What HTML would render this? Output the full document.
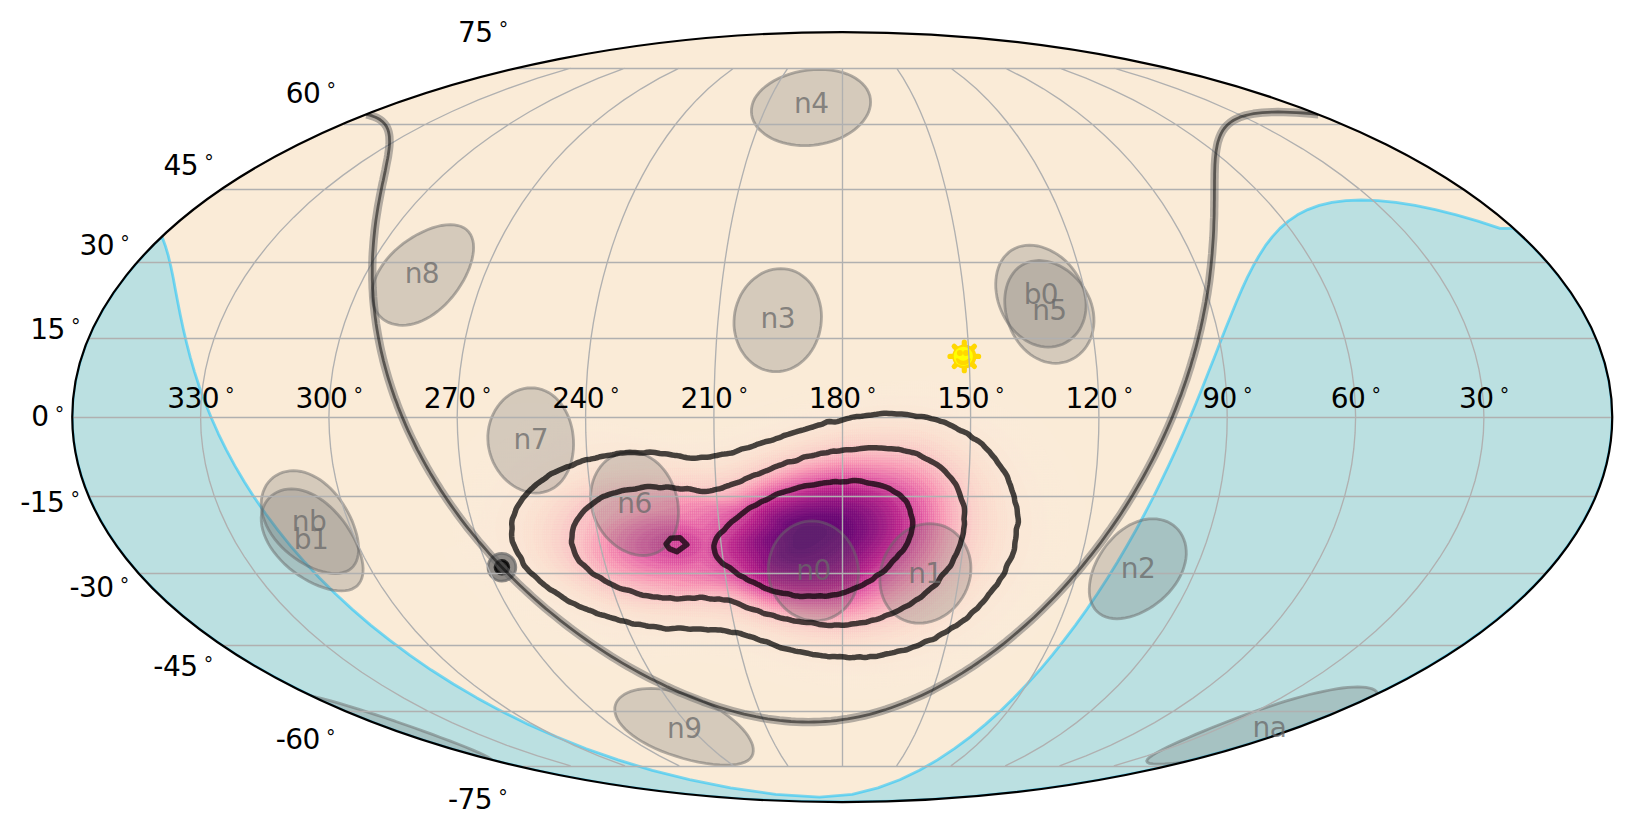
<!DOCTYPE html>
<html lang="en"><head><meta charset="utf-8"><title>Sky map</title>
<style>html,body{margin:0;padding:0;background:#fff}svg{display:block}text{font-family:"DejaVu Sans","Liberation Sans",sans-serif;font-size:28.0px;fill:#000;letter-spacing:-0.55px}.dg{font-size:19px}.det{fill:#696969;fill-opacity:.25;stroke:#696969;stroke-opacity:.5;stroke-width:2.8}.dl text{fill:#696969;fill-opacity:.75;text-anchor:middle}</style></head><body>
<svg width="1632" height="835" viewBox="0 0 1632 835">
<defs><pattern id="hp" x="441.2" y="371" width="2.025" height="2.55" patternUnits="userSpaceOnUse"><rect width="0.45" height="2.55" fill="#fff"/><rect width="2.025" height="0.45" fill="#fff"/></pattern><mask id="hm" maskUnits="userSpaceOnUse" x="440" y="370" width="650" height="340"><rect x="440" y="370" width="650" height="340" fill="url(#hp)"/></mask><clipPath id="sky"><ellipse cx="842.25" cy="417.05" rx="770.0" ry="385.0"/></clipPath></defs>
<rect width="1632" height="835" fill="#fff"/>
<ellipse cx="842.25" cy="417.05" rx="770.0" ry="385.0" fill="#faebd7"/>
<g clip-path="url(#sky)">
<g id="heat">
<path d="M944.5,370.0L963.0,374.6L973.0,377.6L986.0,382.7L998.0,388.4L1010.0,395.2L1021.0,402.6L1031.4,411.0L1040.8,420.0L1050.0,430.7L1058.1,442.0L1066.7,456.0L1074.4,471.0L1079.4,483.0L1083.6,496.0L1086.4,509.0L1087.6,521.0L1087.4,533.0L1086.0,545.0L1083.3,557.0L1079.4,569.0L1074.3,581.0L1068.0,593.0L1060.4,605.0L1052.3,616.0L1042.9,627.0L1032.1,638.0L1020.8,648.0L1009.0,657.1L997.0,665.2L984.0,672.7L970.0,679.4L957.0,684.6L945.0,688.6L933.0,691.9L920.0,694.7L907.0,696.8L894.0,698.3L881.0,699.1L867.0,699.3L854.0,698.9L840.0,697.8L827.0,696.1L813.0,693.7L799.0,690.6L788.0,687.6L775.0,683.5L744.1,672.0L734.0,668.6L723.0,665.6L711.0,663.5L700.0,662.6L687.0,662.7L675.0,663.6L638.0,667.1L622.0,667.9L613.0,667.7L604.0,667.1L596.0,666.0L588.0,664.3L577.0,660.7L566.0,655.3L510.0,622.2L500.3,616.0L492.0,610.0L479.1,599.0L467.6,587.0L457.8,575.0L450.4,565.0L442.0,552.8L440.0,550.8ZM440.0,483.0L441.0,482.0L447.3,471.0L454.7,460.0L465.0,447.0L483.7,426.0L487.0,421.0L490.0,414.7L492.0,411.7L493.6,410.0L496.0,408.4L503.0,405.7L512.0,404.1L524.0,403.1L536.0,403.0L550.0,403.8L563.0,405.4L577.0,407.9L626.8,420.0L643.0,423.1L653.0,424.4L662.0,424.9L674.0,424.8L685.6,424.0L708.0,420.9L730.5,416.0L751.2,410.0L810.0,390.4L836.0,382.5L860.0,376.3L887.7,371.0L891.3,370.0Z" fill="#faebd8"/>
<path d="M903.2,385.0L918.0,385.1L932.0,386.4L945.0,388.7L959.0,392.5L972.0,397.3L985.0,403.4L997.9,411.0L1009.0,419.0L1019.0,427.9L1027.5,437.0L1035.8,448.0L1043.4,460.0L1050.2,473.0L1055.6,486.0L1059.5,499.0L1061.8,511.0L1062.7,522.0L1062.3,534.0L1060.5,546.0L1057.5,558.0L1053.5,569.0L1047.9,581.0L1041.0,593.0L1033.3,604.0L1024.3,615.0L1014.0,625.9L1003.0,635.9L992.0,644.5L980.0,652.6L968.0,659.6L955.0,665.9L941.0,671.5L929.0,675.3L918.0,678.2L906.0,680.6L895.0,682.3L883.0,683.6L870.0,684.3L858.0,684.3L846.0,683.8L834.0,682.8L822.0,681.2L810.0,679.1L798.0,676.4L777.0,670.4L738.8,657.0L727.6,654.0L718.0,652.2L707.0,651.2L695.0,651.1L653.0,653.7L637.0,653.9L620.0,652.6L605.0,649.6L597.0,647.1L588.0,643.5L551.0,625.4L528.0,612.8L518.9,607.0L511.0,601.3L504.0,595.5L496.9,589.0L489.4,581.0L483.6,574.0L476.2,564.0L470.3,555.0L465.8,547.0L462.7,540.0L460.9,534.0L459.8,528.0L459.7,522.0L460.6,514.0L462.6,506.0L465.2,499.0L469.5,490.0L473.6,483.0L477.8,477.0L483.0,470.5L488.0,465.0L495.0,458.3L504.0,450.6L521.5,437.0L531.0,428.2L534.2,426.0L538.0,424.4L546.0,422.3L557.0,421.0L569.0,420.5L582.0,421.0L593.0,422.1L605.0,423.9L646.2,433.0L660.0,435.4L668.0,436.2L676.0,436.5L694.0,435.5L715.0,432.3L737.6,427.0L757.5,421.0L814.0,402.4L830.0,397.6L846.0,393.4L863.0,389.7L876.0,387.5L890.0,385.8L903.2,385.0Z" fill="#faebd8"/>
<path d="M898.7,396.0L913.0,396.3L926.0,397.6L938.0,399.8L951.0,403.3L963.0,407.7L975.0,413.3L986.5,420.0L997.0,427.6L1006.0,435.5L1014.0,444.0L1021.6,454.0L1028.5,465.0L1034.6,477.0L1039.3,489.0L1042.8,501.0L1044.7,512.0L1045.4,523.0L1044.9,534.0L1043.2,545.0L1040.3,556.0L1036.3,567.0L1031.0,578.0L1024.6,589.0L1017.6,599.0L1009.4,609.0L999.8,619.0L989.0,628.8L978.0,637.3L967.0,644.7L955.0,651.5L943.0,657.2L930.0,662.3L920.0,665.4L909.0,668.3L898.0,670.6L887.0,672.2L876.0,673.3L864.0,673.9L852.0,673.9L840.0,673.4L818.0,670.8L796.0,666.3L778.0,661.2L742.0,648.9L731.1,646.0L722.0,644.3L712.0,643.2L701.0,642.9L663.0,644.3L648.0,644.1L631.0,642.5L615.0,639.1L605.0,636.0L593.0,631.4L565.0,619.2L544.0,608.4L535.0,603.0L527.0,597.4L520.1,592.0L513.3,586.0L506.5,579.0L500.5,572.0L494.6,564.0L489.4,556.0L485.1,548.0L482.2,541.0L480.5,535.0L479.6,528.0L479.8,522.0L481.2,514.0L483.3,507.0L486.4,500.0L490.8,492.0L495.7,485.0L500.7,479.0L506.7,473.0L513.0,467.5L520.0,462.2L534.0,453.2L557.0,439.7L563.0,436.9L571.0,434.8L581.0,433.4L592.0,432.7L604.0,432.9L614.0,433.7L625.0,435.2L659.3,442.0L672.0,443.9L685.0,444.6L700.0,443.6L720.0,440.3L741.0,435.1L757.7,430.0L810.0,412.8L841.0,404.2L857.0,400.7L871.0,398.3L885.0,396.7L898.7,396.0Z" fill="#faead8"/>
<path d="M885.5,405.0L899.0,404.7L912.0,405.3L924.0,406.8L937.0,409.5L949.0,413.2L961.0,418.1L972.0,423.7L982.0,430.1L991.0,437.1L999.3,445.0L1007.0,454.0L1013.8,464.0L1019.9,475.0L1024.7,486.0L1028.3,497.0L1030.6,508.0L1031.7,519.0L1031.7,529.0L1030.5,539.0L1028.1,550.0L1024.5,561.0L1020.1,571.0L1014.1,582.0L1007.5,592.0L999.6,602.0L990.3,612.0L980.6,621.0L970.6,629.0L960.0,636.4L948.0,643.4L936.0,649.3L924.0,654.1L914.0,657.4L903.0,660.3L893.0,662.4L882.0,664.1L870.0,665.3L859.0,665.8L848.0,665.8L836.0,665.1L815.0,662.6L795.0,658.5L778.0,653.8L743.0,642.1L734.0,639.7L725.0,637.9L716.0,636.9L706.0,636.4L671.0,636.8L656.0,636.3L639.0,634.4L622.0,630.9L611.0,627.7L599.0,623.7L576.0,614.5L556.0,604.6L547.0,599.4L540.0,594.7L533.0,589.5L526.6,584.0L520.0,577.5L514.3,571.0L509.0,564.0L504.5,557.0L500.8,550.0L498.2,544.0L496.2,537.0L495.3,530.0L495.4,524.0L496.6,517.0L499.2,509.0L502.5,502.0L507.0,494.6L512.0,488.1L517.8,482.0L524.0,476.5L531.0,471.3L538.0,466.8L546.0,462.3L555.0,457.9L580.0,447.5L588.0,445.1L598.0,443.4L609.0,442.5L620.0,442.3L630.0,442.8L640.0,443.9L670.0,449.2L681.0,450.7L693.0,451.0L706.0,449.9L723.0,446.8L741.8,442.0L758.0,437.0L805.0,421.6L834.0,413.4L848.0,410.2L861.0,407.8L873.0,406.1L885.5,405.0Z" fill="#fae9d7"/>
<path d="M888.5,412.0L902.0,412.2L914.0,413.3L926.0,415.3L937.0,418.1L948.0,421.8L959.0,426.7L969.0,432.3L978.0,438.6L986.0,445.3L993.5,453.0L1000.5,462.0L1006.2,471.0L1011.3,481.0L1015.1,491.0L1018.2,502.0L1019.9,512.0L1020.5,522.0L1020.0,532.0L1018.4,542.0L1015.9,552.0L1012.2,562.0L1007.5,572.0L1001.7,582.0L995.4,591.0L988.0,600.0L979.4,609.0L970.0,617.5L960.0,625.3L950.0,632.0L939.0,638.3L928.0,643.5L916.0,648.3L906.0,651.5L897.0,653.8L887.0,655.9L876.0,657.5L865.0,658.5L854.0,659.0L843.0,658.9L832.0,658.2L812.0,655.7L793.0,651.7L778.0,647.5L745.0,636.7L736.0,634.3L727.0,632.5L710.0,630.8L676.0,630.4L660.0,629.5L642.0,627.2L623.0,623.2L603.0,617.3L583.0,609.6L564.0,600.4L548.8,591.0L542.1,586.0L536.2,581.0L530.1,575.0L525.7,570.0L521.1,564.0L517.2,558.0L513.5,551.0L511.0,545.0L509.3,539.0L508.4,533.0L508.4,527.0L509.2,521.0L510.9,515.0L513.2,509.0L516.4,503.0L521.1,496.0L525.4,491.0L530.4,486.0L536.4,481.0L543.0,476.4L550.0,472.3L558.0,468.2L575.0,461.4L590.0,456.7L602.0,453.7L615.0,451.5L628.0,450.4L639.0,450.3L650.0,451.0L680.0,455.4L690.0,456.4L700.0,456.4L711.0,455.2L726.0,452.2L742.0,448.0L802.0,428.5L832.0,420.1L848.0,416.6L862.0,414.2L876.0,412.7L888.5,412.0Z" fill="#fae8d6"/>
<path d="M873.4,417.0L887.0,416.3L900.0,416.6L912.0,417.7L924.0,419.7L935.0,422.6L946.0,426.4L956.0,431.0L966.0,436.7L974.8,443.0L982.8,450.0L990.0,457.8L996.1,466.0L1001.5,475.0L1006.2,485.0L1009.7,495.0L1012.3,506.0L1013.5,516.0L1013.6,526.0L1012.7,536.0L1010.6,546.0L1007.5,556.0L1003.3,566.0L998.0,576.0L991.4,586.0L984.4,595.0L976.0,604.2L967.0,612.6L957.0,620.6L947.0,627.5L936.0,634.0L925.0,639.4L914.0,643.8L904.0,647.1L894.0,649.8L884.0,651.9L874.0,653.4L863.0,654.4L852.0,654.9L841.0,654.8L830.0,654.1L811.0,651.7L793.0,648.0L778.0,643.8L745.0,633.1L728.0,629.2L712.0,627.4L678.0,626.4L662.0,625.3L642.0,622.7L623.0,618.8L605.0,613.6L586.0,606.3L569.0,598.1L554.0,588.9L542.0,579.4L536.4,574.0L532.0,569.0L528.2,564.0L524.3,558.0L521.1,552.0L518.6,546.0L516.9,540.0L516.1,535.0L515.9,530.0L516.5,524.0L517.9,518.0L520.1,512.0L523.1,506.0L526.3,501.0L530.1,496.0L534.8,491.0L540.0,486.4L545.8,482.0L552.0,478.1L559.0,474.3L574.0,468.0L588.0,463.5L602.0,460.1L619.0,457.2L635.0,455.5L646.0,455.1L657.0,455.5L685.0,459.1L694.0,459.8L704.0,459.7L714.0,458.4L728.0,455.4L743.0,451.3L797.0,433.7L824.0,425.8L838.0,422.5L850.0,420.1L862.0,418.2L873.4,417.0Z" fill="#fae6d5"/>
<path d="M880.1,420.0L893.0,419.9L905.0,420.6L917.0,422.3L928.0,424.7L939.0,428.1L949.0,432.2L958.2,437.0L967.0,442.7L975.0,449.0L982.2,456.0L988.8,464.0L994.2,472.0L998.9,481.0L1002.6,490.0L1005.6,500.0L1007.4,510.0L1008.1,519.0L1007.9,529.0L1006.5,539.0L1004.1,549.0L1000.6,559.0L996.5,568.0L991.4,577.0L985.2,586.0L978.0,595.0L970.0,603.5L961.0,611.7L952.0,618.7L942.0,625.5L932.0,631.3L921.0,636.6L910.0,641.0L900.0,644.3L891.0,646.7L881.0,648.7L870.0,650.3L860.0,651.2L849.0,651.6L838.0,651.4L828.0,650.7L810.0,648.4L792.0,644.6L778.0,640.7L745.0,630.2L728.0,626.2L713.0,624.5L679.0,623.0L660.0,621.5L640.0,618.9L623.0,615.4L606.0,610.5L588.0,603.7L572.0,595.9L558.0,587.2L546.3,578.0L541.1,573.0L536.7,568.0L529.7,558.0L526.6,552.0L524.5,547.0L522.8,541.0L522.0,536.0L521.8,530.0L522.3,525.0L523.5,520.0L525.5,514.0L528.5,508.0L531.6,503.0L535.4,498.0L540.0,493.2L544.7,489.0L550.0,485.0L556.0,481.2L562.0,477.9L569.0,474.7L577.0,471.6L591.0,467.3L605.0,464.2L617.0,462.5L643.0,459.9L654.0,459.4L664.0,459.5L690.0,462.3L698.0,462.7L706.0,462.5L715.0,461.3L726.0,459.0L741.0,454.9L797.0,436.6L825.0,428.6L840.0,425.2L854.0,422.6L867.0,420.9L880.1,420.0Z" fill="#fae5d4"/>
<path d="M868.2,424.0L881.0,423.2L894.0,423.3L906.0,424.2L917.0,425.9L928.0,428.5L938.0,431.8L948.0,436.0L957.0,441.0L965.0,446.3L973.0,453.0L979.9,460.0L986.2,468.0L991.2,476.0L995.5,485.0L999.1,495.0L1001.5,505.0L1002.7,514.0L1002.9,524.0L1002.1,534.0L1000.1,544.0L997.1,554.0L993.4,563.0L988.1,573.0L982.3,582.0L975.3,591.0L968.0,599.1L959.0,607.6L949.9,615.0L940.0,621.9L930.0,627.8L919.0,633.3L908.0,637.8L899.0,640.8L889.0,643.5L879.0,645.6L869.0,647.0L859.0,648.0L848.0,648.4L838.0,648.3L827.0,647.5L810.0,645.4L792.0,641.7L777.0,637.5L744.0,627.1L728.0,623.4L712.0,621.5L677.0,619.5L655.0,617.7L638.0,615.5L624.0,612.7L607.0,607.8L591.0,601.7L576.0,594.5L562.0,586.0L550.5,577.0L541.7,568.0L537.8,563.0L534.6,558.0L529.9,548.0L528.4,543.0L527.3,537.0L527.1,532.0L527.5,527.0L528.8,521.0L530.5,516.0L532.7,511.0L535.7,506.0L539.3,501.0L543.0,496.8L548.0,492.2L553.0,488.3L564.0,481.5L578.0,475.4L588.0,472.2L599.0,469.4L610.0,467.4L620.0,466.3L663.0,463.5L675.0,463.7L700.0,465.5L708.0,465.3L716.0,464.2L727.0,461.7L741.0,457.8L793.0,440.6L818.0,433.2L832.0,429.8L844.0,427.3L856.0,425.4L868.2,424.0Z" fill="#fae4d3"/>
<path d="M868.6,427.0L882.0,426.4L894.0,426.6L905.0,427.5L916.0,429.2L926.0,431.5L936.0,434.8L945.0,438.7L954.0,443.6L962.0,449.0L970.0,455.7L976.1,462.0L982.4,470.0L987.3,478.0L991.5,487.0L994.6,496.0L996.6,505.0L997.8,514.0L998.0,524.0L997.2,533.0L995.3,543.0L992.3,553.0L988.6,562.0L983.9,571.0L978.2,580.0L971.3,589.0L964.0,597.1L955.7,605.0L946.0,612.8L936.0,619.8L926.0,625.6L916.0,630.6L905.0,635.0L895.0,638.3L886.0,640.7L877.0,642.6L867.0,644.1L857.0,645.0L847.0,645.4L837.0,645.2L826.0,644.5L809.0,642.4L791.0,638.6L776.0,634.5L744.0,624.4L727.0,620.5L708.0,618.2L652.0,614.5L638.0,612.7L626.0,610.4L610.0,606.0L594.0,600.0L579.0,592.8L566.0,585.0L555.5,577.0L546.4,568.0L539.8,559.0L537.1,554.0L534.9,549.0L533.4,544.0L532.4,539.0L532.1,534.0L532.3,529.0L533.2,524.0L535.0,518.0L537.2,513.0L540.0,508.0L543.6,503.0L547.1,499.0L551.2,495.0L556.2,491.0L567.0,484.3L580.0,478.5L590.0,475.3L600.0,472.8L611.0,470.8L621.0,469.6L648.0,468.9L676.0,467.3L705.0,468.3L716.0,467.1L726.0,464.9L739.7,461.0L791.0,443.8L816.0,436.4L829.0,433.2L843.0,430.4L856.0,428.3L868.6,427.0Z" fill="#fbe2d2"/>
<path d="M867.1,430.0L879.0,429.4L891.0,429.5L902.0,430.3L913.0,431.9L923.0,434.1L933.0,437.3L942.0,441.1L950.0,445.4L958.0,450.7L965.7,457.0L972.6,464.0L978.1,471.0L983.1,479.0L986.8,487.0L989.9,496.0L992.0,505.0L993.1,514.0L993.3,524.0L992.4,533.0L990.5,543.0L987.8,552.0L984.1,561.0L979.4,570.0L973.6,579.0L966.7,588.0L959.4,596.0L951.0,603.8L942.0,611.0L933.0,617.2L923.0,623.1L913.0,628.0L902.0,632.5L893.0,635.5L884.0,637.9L875.0,639.8L865.0,641.3L855.0,642.2L845.0,642.5L825.0,641.7L808.0,639.5L790.0,635.7L775.0,631.6L742.0,621.3L725.0,617.4L715.0,616.0L703.0,614.9L650.0,611.7L638.0,610.2L626.0,607.8L611.0,603.6L596.0,598.0L582.0,591.3L569.0,583.5L558.0,575.0L550.1,567.0L543.6,558.0L539.4,549.0L537.9,544.0L537.1,539.0L536.8,534.0L537.1,529.0L538.1,524.0L539.7,519.0L541.9,514.0L544.7,509.0L548.4,504.0L551.9,500.0L560.0,493.0L565.0,489.6L571.0,486.2L583.0,481.0L592.0,478.1L602.0,475.6L612.0,473.8L622.0,472.6L634.0,472.0L659.0,472.4L684.0,470.9L707.0,470.9L717.0,469.8L726.0,467.8L738.0,464.2L788.0,447.2L814.0,439.5L827.0,436.3L841.0,433.4L854.0,431.4L867.1,430.0Z" fill="#fae0d1"/>
<path d="M864.1,433.0L876.0,432.3L888.0,432.3L899.0,433.0L910.0,434.4L920.0,436.6L929.0,439.3L938.0,442.9L946.0,447.0L954.0,452.2L961.4,458.0L968.0,464.5L974.0,471.9L978.5,479.0L982.4,487.0L985.3,495.0L987.4,504.0L988.6,513.0L988.8,522.0L988.2,531.0L986.4,541.0L983.8,550.0L980.3,559.0L975.7,568.0L970.0,577.0L964.0,585.0L956.9,593.0L948.5,601.0L939.9,608.0L931.0,614.3L921.0,620.2L911.0,625.2L900.0,629.8L891.0,632.8L882.0,635.2L873.0,637.1L864.0,638.5L855.0,639.3L845.0,639.8L835.0,639.7L825.0,639.1L808.0,636.9L791.0,633.5L776.0,629.4L740.0,618.3L723.0,614.4L713.0,613.0L701.0,611.9L651.0,609.5L640.0,608.2L628.0,605.9L613.0,601.8L599.0,596.5L585.2,590.0L573.0,582.8L562.6,575.0L554.4,567.0L548.5,559.0L544.0,550.0L542.5,545.0L541.6,540.0L541.3,535.0L541.7,530.0L542.6,525.0L544.2,520.0L546.0,515.7L548.6,511.0L555.0,502.7L559.0,498.7L563.6,495.0L574.0,488.5L586.0,483.2L595.0,480.3L605.0,477.9L615.0,476.2L625.0,475.1L639.0,474.6L661.0,475.6L669.0,475.6L692.0,474.1L709.0,473.6L718.0,472.4L725.0,470.8L735.0,467.9L786.0,450.2L811.0,442.7L824.0,439.4L838.0,436.5L851.0,434.4L864.1,433.0Z" fill="#faded0"/>
<path d="M877.6,435.0L889.0,435.1L900.0,435.9L910.0,437.4L919.0,439.4L928.0,442.2L936.0,445.5L944.0,449.7L951.0,454.2L958.0,459.7L964.0,465.5L969.4,472.0L974.1,479.0L978.1,487.0L981.0,495.0L983.0,503.0L984.3,512.0L984.6,520.0L984.1,529.0L982.7,538.0L980.3,547.0L977.0,556.0L973.3,564.0L968.0,573.0L962.3,581.0L955.5,589.0L948.6,596.0L940.5,603.0L932.0,609.4L923.0,615.2L914.0,620.2L904.0,624.8L894.0,628.6L885.0,631.4L877.0,633.4L860.0,636.2L842.0,637.2L823.0,636.4L806.0,634.1L789.0,630.6L773.0,626.2L739.0,615.6L729.0,613.1L720.0,611.3L709.0,609.8L698.3,609.0L652.0,607.4L640.0,605.9L629.0,603.8L615.0,599.9L601.0,594.7L587.0,588.0L575.0,580.8L565.0,573.2L557.9,566.0L552.0,558.0L549.5,553.0L547.9,549.0L546.6,544.0L546.0,540.0L545.8,535.0L546.2,530.0L547.3,525.0L549.0,520.0L551.0,515.6L553.7,511.0L560.1,503.0L568.3,496.0L579.0,489.6L591.0,484.6L600.0,481.9L609.0,479.9L618.0,478.4L628.0,477.3L644.0,477.0L668.0,478.5L676.0,478.7L710.0,476.2L717.0,475.3L724.0,473.8L732.0,471.4L786.0,452.5L802.0,447.5L816.0,443.7L832.0,440.1L848.0,437.4L863.0,435.7L877.6,435.0Z" fill="#fadccf"/>
<path d="M866.6,438.0L879.0,437.6L890.0,437.9L900.0,438.7L910.0,440.3L919.0,442.4L927.0,445.1L935.0,448.5L943.0,452.8L950.5,458.0L957.0,463.4L963.0,469.7L968.0,476.2L972.1,483.0L975.6,491.0L978.1,499.0L979.7,507.0L980.5,516.0L980.3,525.0L979.2,534.0L977.3,543.0L974.3,552.0L970.9,560.0L966.0,569.0L960.6,577.0L954.2,585.0L947.0,592.6L939.0,599.8L931.0,606.0L922.0,612.0L913.0,617.1L903.0,621.9L893.0,625.9L885.0,628.4L876.0,630.8L859.0,633.6L841.0,634.7L822.0,633.9L805.0,631.7L788.0,628.1L771.0,623.4L737.0,612.7L728.0,610.4L719.0,608.6L709.0,607.3L698.0,606.5L665.0,606.0L654.0,605.5L643.0,604.3L632.0,602.3L618.0,598.5L604.0,593.3L590.6,587.0L579.0,580.2L569.3,573.0L562.1,566.0L556.2,558.0L552.5,550.0L551.1,545.0L550.5,541.0L550.3,536.0L550.7,531.0L553.0,522.0L555.1,517.0L557.4,513.0L563.6,505.0L571.6,498.0L581.3,492.0L593.0,487.0L602.0,484.2L611.0,482.1L621.0,480.5L631.0,479.5L640.0,479.1L649.0,479.2L674.0,481.2L683.0,481.4L694.0,480.7L718.0,477.8L725.0,476.2L732.0,474.0L781.0,456.3L795.0,451.8L809.0,447.7L823.0,444.3L838.0,441.3L852.0,439.3L866.6,438.0Z" fill="#fadace"/>
<path d="M858.8,441.0L871.0,440.3L883.0,440.2L893.0,440.7L903.0,441.8L912.0,443.5L920.0,445.7L928.0,448.6L936.0,452.4L944.0,457.2L951.0,462.5L957.0,468.1L962.8,475.0L967.4,482.0L970.9,489.0L973.4,496.0L975.3,504.0L976.4,513.0L976.5,522.0L975.7,531.0L974.0,540.0L971.3,549.0L968.1,557.0L963.4,566.0L958.3,574.0L952.1,582.0L945.8,589.0L938.0,596.3L929.6,603.0L921.0,608.9L912.0,614.2L902.0,619.1L892.0,623.2L884.0,625.9L875.0,628.3L858.0,631.2L840.0,632.3L822.0,631.6L805.0,629.4L787.0,625.7L769.0,620.7L736.0,610.1L719.0,606.2L710.0,605.0L699.0,604.3L668.0,604.1L657.0,603.7L645.0,602.5L634.0,600.5L620.8,597.0L607.1,592.0L594.2,586.0L583.0,579.5L574.0,573.0L566.5,566.0L561.1,559.0L557.1,551.0L555.8,547.0L555.0,542.0L555.0,533.0L555.9,528.0L557.4,523.0L559.6,518.0L561.8,514.0L568.0,506.1L575.0,499.9L584.4,494.0L595.0,489.3L604.0,486.4L613.0,484.3L623.0,482.6L634.0,481.5L644.0,481.1L653.0,481.2L680.0,483.6L688.0,484.0L699.0,483.2L717.0,480.6L724.0,479.0L731.0,476.9L778.0,459.5L804.0,451.2L818.0,447.6L832.0,444.7L846.0,442.4L858.8,441.0Z" fill="#fad7cd"/>
<path d="M863.4,443.0L875.0,442.6L886.0,442.7L896.0,443.5L905.0,444.8L914.0,446.8L922.0,449.3L930.0,452.7L937.0,456.4L943.9,461.0L950.1,466.0L956.1,472.0L961.0,478.3L965.1,485.0L968.2,492.0L970.4,499.0L972.0,507.0L972.8,516.0L972.6,524.0L971.6,533.0L969.6,542.0L967.0,550.0L963.6,558.0L959.3,566.0L954.0,574.0L947.7,582.0L941.1,589.0L933.4,596.0L925.7,602.0L917.0,607.9L908.0,613.0L899.0,617.4L889.0,621.4L873.0,626.1L856.0,629.0L839.0,630.1L821.0,629.4L804.0,627.2L785.0,623.2L768.0,618.4L735.0,607.6L719.0,603.9L711.0,602.8L701.0,602.2L670.0,602.3L659.0,601.9L648.0,600.8L637.0,599.0L624.0,595.6L611.1,591.0L598.0,585.0L587.0,578.7L577.6,572.0L570.2,565.0L564.9,558.0L561.5,551.0L560.3,547.0L559.5,542.0L559.4,538.0L559.8,533.0L562.0,524.0L564.2,519.0L566.4,515.0L569.3,511.0L572.7,507.0L579.7,501.0L588.0,495.8L599.0,490.9L608.0,488.1L617.1,486.0L628.0,484.3L639.0,483.3L649.0,483.0L658.0,483.2L685.0,485.9L692.0,486.2L701.0,485.8L712.0,484.1L721.0,482.3L729.1,480.0L778.0,461.5L793.0,456.5L806.0,452.7L820.0,449.2L835.0,446.3L849.0,444.3L863.4,443.0Z" fill="#fad4cc"/>
<path d="M870.1,445.0L881.0,445.0L891.0,445.5L900.0,446.5L909.0,448.2L917.0,450.5L925.0,453.5L932.0,457.0L938.7,461.0L945.0,465.7L950.7,471.0L956.0,477.0L960.1,483.0L963.2,489.0L965.9,496.0L967.7,503.0L968.8,511.0L969.2,519.0L968.6,528.0L967.3,536.0L965.2,544.0L962.4,552.0L958.7,560.0L954.0,568.0L949.1,575.0L943.3,582.0L936.5,589.0L929.8,595.0L922.0,601.0L914.0,606.3L905.0,611.4L896.0,615.7L886.0,619.7L870.0,624.3L854.0,626.9L837.0,627.9L819.0,627.1L801.0,624.7L783.0,620.7L765.0,615.6L734.0,605.2L719.0,601.7L711.0,600.8L702.0,600.3L673.0,600.5L662.0,600.2L650.0,599.1L639.0,597.2L626.0,593.7L613.0,589.0L600.2,583.0L590.0,577.1L581.5,571.0L575.0,564.9L569.6,558.0L566.2,551.0L565.1,547.0L564.4,542.0L564.3,538.0L564.8,533.0L567.3,524.0L569.6,519.0L572.0,515.0L577.7,508.0L585.0,501.8L594.0,496.5L604.7,492.0L614.0,489.3L624.0,487.2L634.0,485.8L645.0,485.0L655.0,484.8L664.0,485.1L696.0,488.3L703.0,488.1L711.0,487.0L721.0,484.8L729.0,482.5L777.0,463.8L793.0,458.4L807.0,454.4L823.0,450.6L839.0,447.8L855.0,445.9L870.1,445.0Z" fill="#fad0cb"/>
<path d="M855.4,448.0L867.0,447.3L878.0,447.2L888.0,447.6L897.0,448.5L905.0,449.9L913.0,452.0L921.0,454.8L928.0,458.0L935.0,462.1L941.7,467.0L947.3,472.0L952.7,478.0L956.8,484.0L960.4,491.0L962.9,498.0L964.5,505.0L965.5,513.0L965.5,522.0L964.6,531.0L963.0,539.0L960.6,547.0L957.3,555.0L953.2,563.0L948.0,571.0L942.6,578.0L936.0,585.2L928.7,592.0L921.0,598.1L913.0,603.6L904.0,608.8L895.0,613.3L885.0,617.3L870.0,621.8L854.0,624.7L837.0,625.8L819.0,625.1L801.0,622.8L782.0,618.7L764.0,613.4L734.0,603.2L720.0,599.8L713.0,599.0L704.0,598.5L676.0,598.8L665.0,598.5L654.0,597.5L643.0,595.7L631.0,592.6L619.0,588.5L606.8,583.0L595.9,577.0L587.2,571.0L580.0,564.5L574.9,558.0L571.5,551.0L570.4,547.0L569.8,543.0L569.7,539.0L570.2,534.0L572.7,525.0L576.7,517.0L582.1,510.0L589.0,503.9L598.0,498.4L608.2,494.0L618.0,491.1L627.0,489.1L638.0,487.6L649.0,486.7L659.0,486.6L668.0,486.9L700.0,490.2L707.0,490.0L714.0,489.0L722.0,487.1L729.0,484.8L772.0,467.6L786.0,462.6L799.0,458.5L814.0,454.6L828.0,451.7L842.0,449.4L855.4,448.0Z" fill="#facdca"/>
<path d="M856.7,450.0L868.0,449.5L879.0,449.4L888.0,449.9L897.0,451.0L905.0,452.5L913.0,454.7L920.0,457.3L927.0,460.7L934.1,465.0L940.7,470.0L946.0,475.1L951.0,481.0L954.8,487.0L957.6,493.0L960.0,500.0L961.4,507.0L962.2,515.0L962.1,523.0L961.2,531.0L959.5,539.0L957.1,547.0L953.7,555.0L949.4,563.0L944.8,570.0L939.4,577.0L932.9,584.0L926.0,590.4L918.0,596.8L910.0,602.2L901.0,607.4L892.0,611.8L883.0,615.4L868.0,619.9L852.0,622.8L835.0,623.9L817.0,623.1L799.0,620.6L780.0,616.4L763.0,611.4L734.0,601.3L721.0,598.1L714.0,597.2L706.0,596.8L678.0,597.1L668.0,596.8L657.0,595.8L646.4,594.0L634.7,591.0L623.3,587.0L611.0,581.7L600.0,575.7L592.0,570.0L585.7,564.0L581.0,558.0L577.6,551.0L576.5,547.0L576.0,543.0L576.4,535.0L578.8,526.0L582.9,518.0L588.3,511.0L595.1,505.0L603.2,500.0L612.3,496.0L621.9,493.0L630.9,491.0L642.0,489.4L653.0,488.5L662.0,488.3L672.0,488.7L704.0,491.9L710.0,491.8L715.8,491.0L722.0,489.5L728.0,487.5L769.0,470.6L784.0,465.1L798.0,460.7L813.0,456.7L828.0,453.6L842.0,451.4L856.7,450.0Z" fill="#fac8c8"/>
<path d="M857.4,452.0L878.0,451.6L887.0,452.1L896.0,453.2L904.0,454.8L911.0,456.7L918.0,459.3L925.0,462.7L932.0,467.0L938.0,471.6L943.0,476.3L947.9,482.0L951.7,488.0L954.6,494.0L956.6,500.0L958.1,507.0L958.9,515.0L958.8,523.0L957.9,531.0L956.2,539.0L953.7,547.0L950.7,554.0L946.4,562.0L941.8,569.0L936.3,576.0L930.0,582.8L923.3,589.0L915.8,595.0L908.0,600.4L900.0,605.1L891.0,609.6L882.0,613.3L867.0,617.9L851.0,620.8L834.0,622.0L816.0,621.2L798.0,618.8L779.0,614.5L762.0,609.4L735.0,599.8L723.0,596.7L716.0,595.7L708.0,595.2L681.0,595.4L671.0,595.1L661.0,594.1L652.0,592.7L641.0,590.0L628.0,585.6L615.0,580.5L605.0,575.5L597.0,570.1L591.4,565.0L586.7,559.0L583.7,553.0L582.3,546.0L582.3,542.0L582.9,537.0L584.0,532.0L585.6,527.0L589.6,519.0L594.1,513.0L600.7,507.0L608.4,502.0L618.0,497.7L626.3,495.0L636.0,492.8L647.0,491.2L658.0,490.3L668.0,490.1L677.0,490.5L706.0,493.4L712.0,493.4L718.0,492.6L724.0,491.1L730.0,489.0L757.0,477.3L774.0,470.5L798.0,462.5L813.0,458.6L828.0,455.5L843.0,453.3L857.4,452.0Z" fill="#fac4c6"/>
<path d="M857.3,454.0L878.0,453.7L887.0,454.3L895.0,455.4L903.0,457.0L910.0,459.1L917.0,461.8L924.0,465.2L930.0,469.0L936.5,474.0L941.5,479.0L945.6,484.0L949.3,490.0L952.0,496.0L953.8,502.0L955.2,509.0L955.8,517.0L955.6,524.0L954.6,532.0L952.7,540.0L950.4,547.0L946.8,555.0L942.8,562.0L938.1,569.0L932.5,576.0L926.8,582.0L920.0,588.2L912.7,594.0L905.0,599.2L896.8,604.0L888.0,608.3L879.0,612.0L864.0,616.4L848.0,619.2L831.0,620.2L814.0,619.4L796.0,616.8L778.0,612.7L761.0,607.6L734.6,598.0L723.0,595.1L709.0,593.7L675.0,593.3L666.0,592.5L656.6,591.0L646.0,588.4L627.0,582.6L617.5,579.0L609.3,575.0L601.5,570.0L595.7,565.0L590.8,559.0L587.7,553.0L586.9,550.0L586.3,546.0L586.5,542.0L587.4,538.0L590.0,532.0L597.6,519.0L602.5,513.0L609.0,507.4L616.2,503.0L625.4,499.0L634.0,496.4L643.0,494.4L652.5,493.0L663.0,492.1L672.0,491.9L681.0,492.2L709.0,494.9L714.0,494.8L720.0,494.1L725.0,492.8L730.2,491.0L756.0,479.6L771.0,473.4L784.0,468.7L797.0,464.5L812.0,460.6L827.0,457.5L842.0,455.3L857.3,454.0Z" fill="#f9bfc4"/>
<path d="M856.4,456.0L877.0,455.8L886.0,456.4L894.0,457.5L902.0,459.2L909.0,461.3L915.7,464.0L922.0,467.2L928.1,471.0L934.0,475.6L939.0,480.5L943.0,485.5L946.4,491.0L949.1,497.0L950.9,503.0L952.2,510.0L952.8,518.0L952.5,525.0L951.4,533.0L949.6,540.0L947.2,547.0L944.0,554.0L940.0,561.0L935.0,568.3L929.6,575.0L923.9,581.0L917.0,587.3L909.7,593.0L902.0,598.1L894.0,602.7L886.0,606.7L877.0,610.3L862.0,614.8L846.0,617.6L829.0,618.4L812.0,617.6L794.0,614.9L776.0,610.7L760.0,605.7L736.0,596.9L725.0,593.9L718.0,592.8L711.0,592.2L678.0,591.5L670.0,590.7L661.0,589.2L631.0,581.6L622.0,578.4L614.0,574.7L606.2,570.0L600.0,564.9L594.9,559.0L591.7,553.0L590.3,547.0L590.5,541.0L592.5,535.0L596.0,529.4L610.6,514.0L615.0,510.1L622.9,505.0L631.8,501.0L640.0,498.4L648.0,496.5L657.7,495.0L668.0,494.1L677.0,493.8L686.0,494.0L712.0,496.2L717.0,496.1L722.0,495.4L727.0,494.1L732.0,492.2L756.0,481.4L771.0,475.2L784.0,470.4L797.0,466.2L812.0,462.3L827.0,459.3L842.0,457.2L856.4,456.0Z" fill="#f9bac2"/>
<path d="M854.7,458.0L875.0,457.8L884.0,458.4L892.0,459.5L900.0,461.2L907.0,463.2L914.0,466.0L919.9,469.0L926.0,472.8L931.4,477.0L936.5,482.0L940.5,487.0L943.6,492.0L946.2,498.0L948.1,504.0L949.2,510.0L949.8,517.0L949.5,525.0L948.6,532.0L946.9,539.0L944.5,546.0L941.3,553.0L937.3,560.0L932.5,567.0L927.0,573.8L921.1,580.0L914.5,586.0L907.0,591.8L900.0,596.5L892.0,601.1L884.0,605.1L875.0,608.8L866.0,611.7L856.0,614.1L846.0,615.7L836.0,616.6L825.0,616.7L814.0,616.2L802.0,614.8L791.0,612.9L780.0,610.3L768.0,606.9L737.0,595.7L726.0,592.6L713.0,590.9L687.0,590.1L675.1,589.0L667.0,587.6L644.0,582.7L633.0,579.9L626.0,577.5L619.0,574.4L613.0,571.2L608.2,568.0L603.4,564.0L599.8,560.0L597.1,556.0L595.3,552.0L594.1,546.0L594.7,540.0L597.1,534.0L601.5,528.0L605.0,524.6L609.0,521.4L627.1,509.0L634.0,505.2L641.0,502.3L648.5,500.0L657.0,498.1L674.0,496.0L690.0,495.7L715.0,497.5L720.0,497.2L724.0,496.6L733.0,493.7L755.0,483.6L770.0,477.2L783.0,472.4L796.0,468.2L810.0,464.5L825.0,461.4L840.0,459.2L854.7,458.0Z" fill="#f9b4c0"/>
<path d="M852.4,460.0L872.0,459.7L881.0,460.2L889.0,461.2L897.0,462.8L904.0,464.8L911.0,467.4L917.0,470.3L923.0,474.0L928.4,478.0L933.0,482.3L937.0,487.0L940.2,492.0L943.1,498.0L945.0,504.0L946.2,510.0L946.8,517.0L946.7,524.0L945.8,531.0L944.2,538.0L941.8,545.0L938.6,552.0L934.6,559.0L929.8,566.0L924.1,573.0L918.3,579.0L911.6,585.0L905.0,590.2L897.0,595.6L889.3,600.0L881.0,604.0L873.0,607.2L864.0,610.2L854.0,612.6L844.0,614.1L834.0,615.0L824.0,615.1L813.0,614.6L802.0,613.3L791.0,611.5L779.0,608.7L768.0,605.6L737.0,594.2L727.0,591.3L715.0,589.5L691.0,588.3L680.0,587.2L664.0,584.0L647.0,581.2L635.0,578.2L628.7,576.0L622.0,573.1L616.1,570.0L611.6,567.0L607.9,564.0L604.0,560.0L601.2,556.0L599.3,552.0L598.0,546.0L598.3,542.0L598.9,539.0L601.8,533.0L606.8,527.0L613.0,522.0L620.0,517.8L644.0,506.4L649.9,504.0L656.3,502.0L664.8,500.0L680.0,497.9L695.0,497.4L717.0,498.7L725.0,498.0L734.3,495.0L756.0,484.8L770.0,478.9L782.0,474.4L795.0,470.2L809.0,466.4L823.0,463.5L838.0,461.3L852.4,460.0Z" fill="#f9aebe"/>
<path d="M849.6,462.0L869.0,461.6L878.0,462.1L886.0,463.0L894.0,464.4L901.0,466.3L908.0,468.8L914.0,471.6L920.0,475.1L925.4,479.0L930.0,483.2L934.2,488.0L937.5,493.0L939.9,498.0L941.9,504.0L943.2,510.0L943.9,517.0L943.8,524.0L943.0,531.0L941.3,538.0L938.8,545.0L935.5,552.0L931.4,559.0L927.1,565.0L921.4,572.0L915.6,578.0L909.0,583.9L902.5,589.0L895.0,594.0L887.0,598.6L879.0,602.5L871.0,605.8L862.0,608.7L853.0,610.9L843.0,612.5L833.0,613.4L823.0,613.5L812.0,613.0L801.0,611.8L790.0,609.9L779.0,607.4L768.0,604.2L758.0,600.8L737.0,592.7L727.0,589.8L716.0,588.1L687.0,585.7L670.0,582.3L650.0,579.6L637.0,576.4L625.0,571.8L619.7,569.0L615.1,566.0L611.0,562.7L607.5,559.0L605.4,556.0L603.4,552.0L602.1,547.0L602.5,541.0L604.2,536.0L607.5,531.0L612.5,526.0L618.0,522.0L625.0,518.2L633.0,514.9L648.4,510.0L664.0,504.2L677.7,501.0L694.0,499.2L702.0,499.1L719.0,499.9L724.0,499.6L728.0,498.8L736.0,496.0L756.0,486.5L769.0,480.9L781.0,476.4L794.0,472.1L808.0,468.3L822.0,465.3L836.0,463.2L849.6,462.0Z" fill="#f8a9bc"/>
<path d="M846.6,464.0L866.0,463.5L883.0,464.7L891.0,466.1L898.0,467.9L905.0,470.2L911.2,473.0L917.0,476.2L922.4,480.0L927.0,484.0L931.4,489.0L934.7,494.0L937.2,499.0L939.2,505.0L940.4,511.0L941.1,518.0L940.9,525.0L939.9,532.0L938.4,538.0L936.0,544.6L932.9,551.0L929.0,557.7L924.5,564.0L919.0,570.7L913.0,576.9L907.0,582.3L900.0,587.8L893.0,592.5L885.0,597.1L877.0,601.1L869.0,604.3L860.0,607.2L851.0,609.4L841.0,611.0L831.0,611.8L821.0,612.0L810.0,611.4L800.0,610.2L789.0,608.3L778.0,605.8L767.0,602.5L738.0,591.6L727.0,588.4L717.0,586.6L692.2,584.0L675.0,580.3L655.0,578.3L647.0,576.8L639.0,574.7L627.1,570.0L618.0,564.5L614.0,561.1L611.1,558.0L609.0,555.0L607.1,551.0L606.1,546.0L606.6,541.0L608.5,536.0L611.1,532.0L615.0,527.9L621.0,523.4L627.1,520.0L635.0,516.7L645.0,513.6L661.9,510.0L676.0,505.1L687.0,502.6L700.0,501.0L722.0,501.0L729.4,500.0L737.0,497.4L756.0,488.2L769.0,482.6L781.0,478.0L793.0,474.0L806.0,470.4L820.0,467.4L833.0,465.3L846.6,464.0Z" fill="#f6a2ba"/>
<path d="M843.6,466.0L863.0,465.4L880.0,466.5L888.0,467.7L895.0,469.4L902.0,471.7L908.0,474.2L914.0,477.4L919.4,481.0L924.1,485.0L928.0,489.2L931.4,494.0L934.0,499.0L936.2,505.0L937.5,511.0L938.2,517.0L938.2,524.0L937.3,531.0L935.9,537.0L933.7,543.0L930.4,550.0L926.9,556.0L922.0,563.0L917.0,569.0L911.0,575.3L904.7,581.0L898.0,586.3L891.0,591.0L883.0,595.7L875.0,599.6L867.0,602.9L858.0,605.8L849.0,607.9L840.0,609.4L830.0,610.3L820.0,610.4L810.0,609.9L800.0,608.8L789.0,607.0L778.0,604.4L767.0,601.2L738.0,590.1L727.0,586.8L719.0,585.3L697.0,582.3L681.0,578.3L667.0,577.6L659.0,576.8L650.0,575.2L641.0,572.8L631.0,569.0L622.0,563.7L618.6,561.0L615.6,558.0L613.4,555.0L611.4,551.0L610.4,547.0L610.5,542.0L612.3,537.0L614.8,533.0L618.6,529.0L623.8,525.0L630.0,521.5L637.0,518.5L644.0,516.3L651.0,514.6L672.0,511.4L684.1,507.0L696.0,504.0L706.0,502.6L724.0,502.2L731.0,501.1L739.0,498.2L755.8,490.0L768.0,484.6L779.0,480.3L791.0,476.2L804.0,472.5L817.0,469.6L830.0,467.4L843.6,466.0Z" fill="#f49cb8"/>
<path d="M840.5,468.0L860.0,467.2L877.0,468.2L885.0,469.4L892.0,471.0L898.8,473.0L905.0,475.5L911.0,478.5L916.4,482.0L921.2,486.0L925.0,490.0L928.7,495.0L931.3,500.0L933.1,505.0L934.6,511.0L935.3,517.0L935.3,524.0L934.5,531.0L933.0,537.0L930.8,543.0L927.9,549.0L924.0,555.5L919.4,562.0L914.0,568.5L908.0,574.6L902.0,580.0L895.0,585.5L888.0,590.2L880.0,594.8L873.0,598.2L865.0,601.4L857.0,604.0L848.0,606.3L839.0,607.8L829.0,608.7L819.0,608.9L809.0,608.4L799.0,607.3L788.0,605.4L777.6,603.0L767.0,599.9L737.0,588.3L726.0,585.0L701.0,580.4L686.0,575.9L671.0,575.6L662.0,574.9L652.0,573.3L643.3,571.0L633.1,567.0L625.0,562.1L619.5,557.0L617.3,554.0L615.8,551.0L614.7,547.0L614.9,542.0L616.2,538.0L618.7,534.0L622.4,530.0L627.7,526.0L633.1,523.0L640.0,520.1L648.0,517.7L657.0,515.8L665.0,514.8L680.0,513.7L682.3,513.0L694.2,508.0L705.8,505.0L714.0,503.9L727.0,503.3L732.0,502.4L739.0,499.9L756.0,491.5L768.0,486.2L779.0,481.9L790.0,478.1L802.0,474.6L815.0,471.6L828.0,469.4L840.5,468.0Z" fill="#f295b6"/>
<path d="M837.5,470.0L856.0,469.1L874.0,470.0L882.0,471.1L889.0,472.5L896.0,474.5L902.5,477.0L908.0,479.7L913.3,483.0L918.3,487.0L922.2,491.0L925.3,495.0L928.1,500.0L930.1,505.0L931.6,511.0L932.4,517.0L932.5,524.0L931.8,530.0L930.4,536.0L928.3,542.0L925.4,548.0L921.8,554.0L917.0,560.8L911.8,567.0L906.0,573.0L899.4,579.0L892.9,584.0L886.0,588.7L878.6,593.0L871.0,596.8L863.0,600.0L854.0,602.9L845.0,605.0L836.0,606.4L827.0,607.2L817.0,607.3L807.0,606.8L797.0,605.7L787.0,603.9L776.0,601.2L765.5,598.0L732.0,585.1L724.0,582.9L705.0,578.6L690.0,573.3L675.0,573.5L665.0,572.9L655.0,571.5L645.4,569.0L636.0,565.3L628.9,561.0L623.5,556.0L621.4,553.0L620.0,550.0L619.1,546.0L619.4,542.0L620.8,538.0L623.5,534.0L627.6,530.0L631.9,527.0L637.0,524.3L642.4,522.0L652.0,519.2L662.0,517.4L670.0,516.7L685.0,516.6L688.0,516.1L698.0,511.0L708.0,507.5L717.0,505.6L731.0,504.1L736.0,502.8L767.5,488.0L780.0,483.1L792.0,479.1L803.0,476.0L815.0,473.3L826.0,471.4L837.5,470.0Z" fill="#f08fb5"/>
<path d="M852.0,471.0L869.0,471.5L884.0,473.7L891.0,475.4L897.0,477.4L903.0,479.9L908.6,483.0L913.0,486.0L917.5,490.0L921.0,494.0L923.7,498.0L926.2,503.0L927.9,508.0L929.0,513.0L929.6,519.0L929.6,525.0L928.8,531.0L927.5,536.0L925.3,542.0L922.9,547.0L919.3,553.0L915.0,559.0L910.1,565.0L904.4,571.0L899.0,576.0L887.0,585.3L873.9,593.0L867.0,596.2L859.0,599.3L851.0,601.7L842.0,603.7L833.0,605.0L824.0,605.7L815.0,605.8L805.0,605.2L795.0,604.0L785.0,602.1L775.0,599.6L765.0,596.5L733.0,583.7L706.7,576.0L694.0,570.3L691.0,570.1L678.0,571.1L668.0,570.8L657.0,569.3L647.0,566.7L638.2,563.0L631.9,559.0L627.0,554.0L624.4,549.0L623.8,546.0L624.1,542.0L625.7,538.0L628.0,534.7L631.9,531.0L636.0,528.2L641.0,525.6L647.0,523.3L657.0,520.7L668.0,519.2L677.0,518.9L690.0,519.7L693.0,519.5L695.0,518.7L703.0,513.6L710.9,510.0L720.0,507.3L732.0,505.4L737.0,504.1L768.0,489.4L780.0,484.7L792.0,480.7L807.0,476.6L822.0,473.6L837.0,471.8L852.0,471.0Z" fill="#ed87b3"/>
<path d="M845.5,473.0L863.0,473.1L879.0,474.9L892.0,478.1L898.0,480.3L903.6,483.0L908.5,486.0L913.0,489.5L916.5,493.0L919.6,497.0L922.0,501.0L924.1,506.0L925.5,511.0L926.5,517.0L926.7,523.0L926.4,528.0L925.2,534.0L923.6,539.0L921.0,544.8L918.0,550.0L913.9,556.0L909.0,562.2L898.6,573.0L892.7,578.0L886.0,583.0L872.9,591.0L866.0,594.3L858.0,597.5L850.0,600.0L841.4,602.0L833.0,603.3L824.0,604.1L815.0,604.2L805.0,603.7L796.0,602.7L786.0,600.9L773.0,597.6L760.0,593.2L735.0,582.7L712.7,575.0L706.1,572.0L697.0,566.9L695.0,566.8L682.0,568.4L672.0,568.5L660.0,567.2L650.0,564.7L643.0,561.9L636.6,558.0L632.4,554.0L630.9,552.0L629.5,549.0L628.9,546.0L629.2,542.0L630.4,539.0L632.4,536.0L635.4,533.0L639.6,530.0L644.0,527.7L649.0,525.7L659.0,523.0L671.0,521.5L682.0,521.6L695.0,523.2L698.0,523.2L700.0,522.1L708.0,516.0L715.4,512.0L723.2,509.0L735.0,506.4L739.0,505.1L765.0,492.4L785.0,484.5L800.0,480.0L815.0,476.5L830.0,474.2L845.5,473.0Z" fill="#eb80b1"/>
<path d="M841.2,475.0L859.0,474.9L875.0,476.5L882.0,477.8L889.0,479.6L895.0,481.7L900.0,484.0L905.0,486.8L909.3,490.0L913.0,493.4L916.0,497.0L918.6,501.0L920.9,506.0L922.4,511.0L923.5,517.0L923.8,523.0L923.4,528.0L922.2,534.0L920.6,539.0L918.3,544.0L915.0,549.7L906.5,561.0L895.9,572.0L890.0,577.0L883.3,582.0L877.0,586.1L870.0,590.0L863.0,593.3L856.1,596.0L848.0,598.5L840.0,600.4L831.0,601.8L822.0,602.5L813.0,602.6L804.0,602.2L794.3,601.0L785.0,599.3L774.0,596.5L763.0,592.9L734.0,580.4L720.3,575.0L710.2,570.0L700.0,563.0L698.0,562.9L686.0,565.3L678.0,565.8L668.0,565.5L659.0,564.1L650.0,561.3L643.4,558.0L638.4,554.0L636.7,552.0L635.1,549.0L634.3,546.0L634.5,543.0L635.5,540.0L637.5,537.0L640.0,534.5L643.4,532.0L647.0,530.0L651.8,528.0L657.0,526.4L663.0,525.2L675.0,524.1L687.0,524.9L700.0,527.7L702.0,527.6L703.1,527.0L712.0,519.0L716.3,516.0L721.6,513.0L728.5,510.0L740.0,506.5L762.0,495.4L777.1,489.0L793.0,483.6L809.0,479.4L825.0,476.6L841.2,475.0Z" fill="#e778af"/>
<path d="M837.8,477.0L855.0,476.7L871.0,478.0L885.0,480.9L891.0,482.8L896.4,485.0L901.9,488.0L906.0,490.9L909.6,494.0L913.0,498.0L915.6,502.0L917.5,506.0L919.2,511.0L920.2,516.0L920.7,522.0L920.5,527.0L919.7,532.0L918.3,537.0L916.2,542.0L913.4,547.0L909.4,553.0L905.0,558.6L900.0,564.3L894.2,570.0L888.4,575.0L881.9,580.0L868.9,588.0L862.0,591.3L855.0,594.2L846.0,597.0L838.0,598.8L830.0,600.1L821.0,600.9L812.0,601.0L803.0,600.5L794.0,599.5L785.0,597.8L772.0,594.4L760.0,590.2L750.3,586.0L724.7,574.0L719.0,571.0L712.7,567.0L707.7,563.0L703.0,558.4L702.0,558.0L700.0,558.3L691.0,561.2L683.0,562.5L674.0,562.8L665.0,561.9L656.8,560.0L649.0,556.6L644.0,552.8L642.0,550.3L640.9,548.0L640.4,546.0L640.6,543.0L641.8,540.0L643.3,538.0L648.0,534.0L655.0,530.6L660.3,529.0L666.0,527.9L672.0,527.3L679.0,527.3L685.0,527.8L691.0,528.8L697.0,530.6L703.0,533.1L705.0,533.0L715.8,522.0L720.8,518.0L725.4,515.0L732.0,511.5L742.0,507.6L759.0,498.6L771.0,493.1L787.4,487.0L805.0,482.0L821.0,478.8L837.8,477.0Z" fill="#e370ab"/>
<path d="M835.0,479.0L852.0,478.6L868.0,479.8L882.0,482.5L893.0,486.2L898.0,488.8L902.0,491.3L906.0,494.6L909.2,498.0L912.0,502.0L914.1,506.0L915.9,511.0L917.0,516.0L917.5,521.0L917.5,526.0L916.8,531.0L915.4,536.0L913.4,541.0L910.7,546.0L902.8,557.0L892.4,568.0L886.8,573.0L880.3,578.0L867.7,586.0L861.0,589.3L854.0,592.2L846.0,594.9L838.0,596.9L830.0,598.2L821.0,599.1L812.0,599.3L803.0,598.9L794.0,597.9L785.0,596.2L772.0,592.8L758.8,588.0L745.8,582.0L727.0,572.0L717.9,566.0L712.1,561.0L708.1,556.0L705.0,550.0L704.0,549.4L698.0,554.0L692.0,556.8L684.0,558.7L675.0,559.2L666.0,558.3L657.9,556.0L654.0,554.0L651.2,552.0L649.4,550.0L648.2,548.0L647.6,545.0L648.2,542.0L650.0,539.2L652.5,537.0L655.8,535.0L660.0,533.2L664.4,532.0L670.0,531.1L675.0,530.8L681.0,531.0L687.0,531.9L691.3,533.0L696.0,534.9L699.0,536.6L705.0,542.2L706.0,541.6L710.6,535.0L716.0,528.5L721.0,523.5L726.3,519.0L735.4,513.0L762.0,498.9L779.0,491.6L798.0,485.5L817.0,481.2L835.0,479.0Z" fill="#dd68a8"/>
<path d="M832.7,481.0L847.0,480.5L862.0,481.3L875.0,483.2L886.0,486.2L894.7,490.0L902.0,495.0L905.1,498.0L908.0,501.8L909.9,505.0L911.7,509.0L912.9,513.0L913.9,518.0L914.1,527.0L912.5,535.0L911.0,539.0L908.5,544.0L901.6,554.0L892.6,564.0L882.6,573.0L871.4,581.0L862.5,586.0L853.6,590.0L844.0,593.2L834.0,595.6L824.0,597.0L814.0,597.5L803.0,597.2L792.7,596.0L782.4,594.0L771.6,591.0L760.7,587.0L749.8,582.0L737.2,575.0L726.6,568.0L719.2,562.0L714.0,556.0L711.7,551.0L711.2,547.0L711.9,543.0L713.8,539.0L719.0,532.2L725.8,525.0L732.7,519.0L741.0,513.0L752.4,506.0L762.0,500.8L772.3,496.0L784.0,491.5L796.0,487.7L809.0,484.5L821.0,482.3L832.7,481.0ZM669.8,536.0L675.0,535.5L680.0,535.7L685.0,536.6L688.9,538.0L692.2,540.0L694.1,542.0L694.9,544.0L694.6,547.0L693.0,549.3L690.0,551.4L686.3,553.0L682.0,554.0L677.0,554.5L672.0,554.3L667.0,553.4L663.1,552.0L659.8,550.0L657.9,548.0L657.1,546.0L657.4,543.0L658.7,541.0L661.2,539.0L665.0,537.2L669.8,536.0Z" fill="#d960a4"/>
<path d="M830.8,483.0L844.0,482.4L858.0,483.0L871.0,484.7L882.0,487.4L890.8,491.0L898.0,495.6L903.4,501.0L905.5,504.0L907.6,508.0L909.1,512.0L910.2,517.0L910.7,521.0L910.8,526.0L909.4,534.0L906.1,542.0L900.0,551.3L891.0,561.6L881.0,570.8L871.0,578.2L863.0,583.0L854.0,587.3L845.0,590.6L835.0,593.3L825.0,594.9L815.0,595.6L805.0,595.5L794.0,594.4L783.0,592.4L773.0,589.6L763.0,586.0L752.1,581.0L741.7,575.0L733.2,569.0L724.8,562.0L719.5,556.0L717.1,551.0L716.6,547.0L717.3,543.0L719.9,538.0L725.7,531.0L732.7,524.0L742.0,516.0L751.2,509.0L759.6,504.0L768.0,499.7L778.0,495.5L788.0,491.9L799.0,488.6L810.0,486.0L821.0,484.1L830.8,483.0Z" fill="#d357a0"/>
<path d="M829.3,485.0L843.0,484.4L856.0,485.0L869.0,486.7L880.0,489.4L888.7,493.0L895.0,497.1L898.2,500.0L900.7,503.0L904.2,509.0L906.6,517.0L907.2,521.0L907.3,526.0L905.9,534.0L903.1,541.0L897.2,550.0L889.0,559.5L880.0,568.1L869.6,576.0L861.4,581.0L853.0,585.2L844.0,588.6L834.0,591.3L824.0,593.0L814.0,593.7L804.0,593.6L794.0,592.6L784.0,590.7L773.9,588.0L764.0,584.4L754.5,580.0L747.5,576.0L740.5,571.0L730.2,562.0L724.8,556.0L722.2,551.0L721.6,547.0L722.2,543.0L724.2,539.0L728.2,534.0L734.8,527.0L750.8,512.0L754.9,509.0L762.0,504.7L771.0,500.3L780.0,496.5L790.0,493.0L800.0,490.1L810.0,487.8L820.0,486.1L829.3,485.0Z" fill="#cd4f9d"/>
<path d="M828.2,487.0L841.0,486.5L854.0,487.0L867.0,488.7L877.0,491.1L885.0,494.3L892.0,498.7L897.2,504.0L900.7,510.0L903.1,518.0L903.7,526.0L902.6,533.0L899.9,540.0L894.9,548.0L886.4,558.0L877.0,566.9L867.7,574.0L859.7,579.0L851.0,583.4L842.0,586.8L833.0,589.2L824.0,590.9L814.0,591.7L804.0,591.6L794.0,590.7L784.0,588.8L773.8,586.0L764.0,582.3L755.1,578.0L748.7,574.0L743.7,570.0L733.4,560.0L729.2,555.0L727.1,551.0L726.3,547.0L726.8,543.0L728.8,539.0L731.9,535.0L736.6,530.0L748.9,518.0L753.3,513.0L757.1,510.0L763.5,506.0L771.4,502.0L780.0,498.3L789.3,495.0L799.0,492.1L809.0,489.8L819.0,488.0L828.2,487.0Z" fill="#c74598"/>
<path d="M827.6,489.0L840.0,488.5L852.0,489.1L864.0,490.6L874.5,493.0L882.1,496.0L888.5,500.0L893.5,505.0L897.0,510.7L899.3,518.0L900.0,526.0L899.0,533.0L896.2,540.0L891.0,548.0L883.2,557.0L874.8,565.0L866.0,571.8L858.0,576.9L850.0,581.0L842.0,584.2L832.6,587.0L823.0,588.8L814.0,589.6L805.0,589.7L795.0,588.9L785.0,587.1L775.0,584.4L765.9,581.0L757.7,577.0L752.8,574.0L747.8,570.0L734.1,555.0L731.8,551.0L730.9,547.0L731.3,543.0L732.6,540.0L738.1,533.0L751.0,520.2L755.9,514.0L759.3,511.0L765.6,507.0L773.0,503.2L781.0,499.8L790.0,496.6L799.0,494.0L809.0,491.6L818.0,490.1L827.6,489.0Z" fill="#c13c95"/>
<path d="M827.6,491.0L838.0,490.7L848.0,491.0L859.0,492.2L868.0,493.9L875.0,496.0L881.0,498.8L885.8,502.0L890.0,506.3L893.4,512.0L895.4,518.0L896.2,525.0L895.5,532.0L893.8,537.0L890.6,543.0L886.0,549.2L879.0,556.9L872.5,563.0L865.0,569.0L857.6,574.0L850.3,578.0L842.0,581.6L834.0,584.2L826.0,586.0L817.0,587.3L808.0,587.7L798.0,587.2L789.0,585.9L780.0,583.8L771.0,580.9L762.2,577.0L755.6,573.0L750.8,569.0L737.6,553.0L735.5,548.0L735.3,544.0L736.2,541.0L738.8,537.0L743.3,532.0L754.3,521.0L759.3,514.0L764.4,510.0L771.0,506.3L779.0,502.6L788.5,499.0L798.0,496.1L808.0,493.7L818.0,492.0L827.6,491.0Z" fill="#ba3892"/>
<path d="M828.9,493.0L839.0,492.9L849.0,493.4L859.0,494.6L867.0,496.3L873.0,498.3L878.6,501.0L882.8,504.0L886.6,508.0L889.6,513.0L891.5,519.0L892.3,526.0L891.6,532.0L889.9,537.0L887.0,542.3L882.8,548.0L876.4,555.0L870.0,561.1L863.0,566.8L856.0,571.6L849.0,575.6L841.5,579.0L834.0,581.6L826.0,583.6L818.0,584.9L809.0,585.5L800.0,585.3L791.0,584.2L783.0,582.5L774.0,579.8L766.0,576.5L759.8,573.0L754.8,569.0L752.1,566.0L741.7,552.0L739.9,548.0L739.6,544.0L740.4,541.0L742.8,537.0L757.3,522.0L762.0,514.7L766.7,511.0L773.8,507.0L782.0,503.3L791.0,500.1L801.0,497.3L810.0,495.3L819.0,493.9L828.9,493.0Z" fill="#b33490"/>
<path d="M818.5,496.0L827.0,495.3L836.0,495.1L846.0,495.6L856.0,496.7L863.0,498.1L869.0,499.9L874.0,502.1L878.5,505.0L882.5,509.0L885.1,513.0L887.3,519.0L888.2,525.0L887.9,530.0L886.7,535.0L884.3,540.0L880.8,545.0L874.7,552.0L868.0,558.6L861.0,564.5L854.0,569.4L847.0,573.5L839.3,577.0L832.0,579.5L824.0,581.5L815.0,582.9L807.0,583.3L798.5,583.0L790.0,581.9L781.0,579.8L772.7,577.0L766.0,573.9L760.0,570.0L755.3,565.0L751.7,559.0L746.4,552.0L744.7,549.0L743.9,546.0L743.9,543.0L744.9,540.0L746.8,537.0L760.3,523.0L761.8,521.0L763.6,517.0L765.0,515.3L767.7,513.0L772.0,510.2L782.0,505.4L793.0,501.5L806.0,498.1L818.5,496.0Z" fill="#ab308d"/>
<path d="M819.9,498.0L828.0,497.5L836.0,497.5L846.0,498.1L855.0,499.2L861.0,500.5L866.0,502.0L871.0,504.3L875.1,507.0L878.9,511.0L881.4,515.0L883.1,520.0L883.9,526.0L883.6,531.0L882.4,535.0L879.9,540.0L876.3,545.0L871.0,551.0L864.0,557.7L857.6,563.0L851.0,567.6L845.0,571.2L838.0,574.5L831.0,577.0L823.0,579.1L815.0,580.4L807.0,581.0L799.0,580.8L791.0,579.8L783.0,578.0L775.0,575.4L768.0,572.2L763.0,569.0L760.8,567.0L758.5,564.0L755.0,557.3L750.0,550.2L748.5,547.0L748.0,544.0L748.2,542.0L749.4,539.0L751.6,536.0L764.0,523.0L766.3,518.0L767.8,516.0L771.0,513.5L775.0,511.0L785.0,506.4L796.0,502.7L808.0,499.8L819.9,498.0Z" fill="#a42b8b"/>
<path d="M823.7,500.0L839.0,500.1L855.0,502.0L860.0,503.3L865.0,505.1L869.0,507.2L872.5,510.0L875.8,514.0L877.7,518.0L879.1,523.0L879.4,528.0L878.6,533.0L877.1,537.0L874.7,541.0L871.0,545.7L865.0,552.0L858.4,558.0L852.0,563.0L846.0,567.0L840.0,570.3L833.7,573.0L827.0,575.3L820.0,577.0L813.0,578.1L805.0,578.5L797.0,578.2L790.0,577.2L782.0,575.3L775.4,573.0L769.3,570.0L765.1,567.0L761.8,563.0L758.7,556.0L753.5,548.0L752.5,545.0L752.3,543.0L752.6,541.0L754.1,538.0L757.3,534.0L767.0,524.0L769.1,519.0L770.0,517.6L772.9,515.0L778.0,511.9L784.1,509.0L792.0,506.1L800.0,503.8L808.0,502.0L816.0,500.7L823.7,500.0Z" fill="#9b2788"/>
<path d="M816.6,503.0L831.0,502.4L848.0,503.8L858.0,506.0L862.8,508.0L866.1,510.0L869.4,513.0L871.5,516.0L873.3,520.0L874.5,525.0L874.6,529.0L873.9,533.0L872.3,537.0L869.8,541.0L865.5,546.0L859.0,552.5L852.7,558.0L847.0,562.2L841.0,566.0L835.1,569.0L829.0,571.5L822.0,573.6L815.0,575.0L808.0,575.8L801.0,575.9L794.0,575.3L787.0,574.0L780.0,572.0L774.0,569.5L769.8,567.0L767.0,564.5L765.2,562.0L762.2,554.0L757.3,546.0L756.7,543.0L756.9,541.0L758.8,537.0L770.1,525.0L771.1,523.0L772.0,520.0L773.0,518.5L775.8,516.0L779.0,514.0L787.0,510.2L796.0,507.2L806.0,504.7L816.6,503.0Z" fill="#942386"/>
<path d="M812.7,506.0L826.0,505.1L841.4,506.0L852.0,507.8L856.0,509.1L860.0,511.0L863.0,513.2L866.0,516.6L867.8,520.0L869.0,524.0L869.4,528.0L869.0,532.0L868.1,535.0L866.0,538.9L862.8,543.0L856.9,549.0L851.0,554.4L845.1,559.0L835.0,565.2L829.0,567.9L823.0,570.0L816.0,571.8L810.0,572.7L804.0,573.1L797.0,572.9L790.5,572.0L784.0,570.4L778.0,568.2L773.8,566.0L771.0,563.8L768.7,561.0L767.8,559.0L765.9,552.0L761.8,545.0L761.3,543.0L761.3,541.0L761.9,539.0L763.0,537.0L773.2,526.0L775.7,520.0L780.0,516.4L786.6,513.0L794.7,510.0L804.0,507.6L812.7,506.0Z" fill="#8b1f83"/>
<path d="M810.7,509.0L823.0,508.0L837.0,508.7L847.0,510.2L851.0,511.4L854.6,513.0L857.6,515.0L860.0,517.5L861.6,520.0L863.0,523.5L863.7,527.0L863.6,531.0L862.9,534.0L861.5,537.0L858.6,541.0L854.8,545.0L848.4,551.0L842.3,556.0L837.0,559.6L832.0,562.5L821.0,567.0L815.0,568.6L809.0,569.6L804.0,570.0L798.0,569.9L792.0,569.2L786.6,568.0L781.0,566.1L777.0,564.1L774.0,561.7L772.0,559.0L771.3,557.0L770.3,551.0L766.5,544.0L766.0,542.0L766.1,540.0L767.4,537.0L776.6,527.0L779.0,521.0L782.7,518.0L788.0,515.2L794.0,512.9L802.0,510.7L810.7,509.0Z" fill="#831b80"/>
<path d="M810.6,512.0L822.0,511.3L835.0,512.0L844.0,513.6L850.0,516.0L852.6,518.0L854.4,520.0L856.1,523.0L857.0,525.9L857.4,529.0L857.2,532.0L855.1,537.0L852.9,540.0L849.0,544.0L837.3,554.0L829.0,559.3L819.0,563.5L808.7,566.0L803.0,566.5L798.0,566.5L793.0,565.9L788.0,564.8L783.0,563.1L780.0,561.5L777.0,559.0L775.4,556.0L774.6,549.0L771.2,542.0L771.2,539.0L772.1,537.0L774.5,534.0L780.0,528.2L782.0,523.0L785.3,520.0L790.0,517.5L796.0,515.3L803.0,513.4L810.6,512.0Z" fill="#7a177d"/>
<path d="M816.4,515.0L825.0,515.2L835.0,516.1L841.0,517.7L845.0,519.8L847.2,522.0L848.5,524.0L849.9,529.0L849.8,532.0L849.3,534.0L847.0,538.0L839.9,545.0L831.0,552.2L823.0,556.9L815.0,560.1L806.0,562.1L798.0,562.5L793.8,562.0L789.4,561.0L786.0,559.8L782.8,558.0L780.8,556.0L779.8,554.0L779.5,547.0L777.0,541.4L776.7,539.0L778.0,536.0L784.3,529.0L785.7,525.0L786.3,524.0L790.5,521.0L798.0,518.1L807.0,516.0L816.4,515.0Z" fill="#711279"/>
<path d="M807.6,520.0L815.0,519.4L824.0,519.8L830.0,520.5L834.9,522.0L837.8,524.0L840.0,527.4L840.8,531.0L840.5,533.0L839.8,535.0L836.6,539.0L827.3,547.0L821.0,551.2L814.0,554.5L807.0,556.6L801.0,557.4L795.0,557.0L788.7,555.0L786.1,553.0L785.1,551.0L785.2,544.0L783.4,539.0L784.1,536.0L788.5,531.0L790.3,527.0L792.2,525.0L795.0,523.4L798.8,522.0L807.6,520.0Z" fill="#690e76"/>
<path d="M807.0,526.0L817.0,526.0L823.0,527.1L825.0,528.2L826.5,530.0L827.0,533.0L826.4,535.0L823.7,538.0L818.0,542.6L814.4,545.0L810.0,547.2L806.0,548.7L802.0,549.5L798.0,549.4L795.0,548.5L793.1,547.0L792.7,546.0L793.1,541.0L792.6,538.0L792.7,536.0L797.5,529.0L802.0,527.0L807.0,526.0Z" fill="#5f0a72"/>
</g>
<g mask="url(#hm)">
<path d="M895.9,381.0L912.0,380.4L927.0,381.0L941.0,382.8L956.0,386.2L970.0,390.7L984.0,396.8L997.0,403.8L1009.3,412.0L1020.0,420.7L1029.4,430.0L1038.5,441.0L1046.6,453.0L1054.4,467.0L1060.8,481.0L1065.6,495.0L1068.4,508.0L1069.7,520.0L1069.6,532.0L1068.1,544.0L1065.4,556.0L1061.3,568.0L1055.5,581.0L1048.7,593.0L1040.6,605.0L1031.8,616.0L1021.0,627.5L1010.0,637.7L998.0,647.3L985.0,656.1L972.0,663.6L959.0,669.9L945.0,675.4L922.0,682.2L898.0,686.5L873.0,688.5L848.0,688.1L823.0,685.4L798.0,680.4L777.0,674.3L737.0,660.2L726.0,657.3L716.0,655.4L705.0,654.5L693.0,654.4L648.0,657.6L632.0,657.9L615.0,656.7L599.0,653.4L590.0,650.4L581.0,646.5L541.0,625.6L520.0,613.7L504.0,602.5L490.0,590.0L476.8,575.0L462.0,554.0L457.5,546.0L454.5,539.0L451.6,527.0L451.4,521.0L452.4,513.0L454.3,505.0L456.7,498.0L464.7,482.0L473.8,469.0L484.6,457.0L510.5,434.0L520.0,423.4L523.3,421.0L527.0,419.4L536.0,417.1L547.0,415.9L559.0,415.5L572.0,416.0L597.0,419.4L639.3,429.0L656.0,432.0L673.0,433.2L693.0,432.1L716.0,428.5L738.7,423.0L814.0,398.6L845.0,389.8L871.0,384.2L895.9,381.0Z" fill="#fbebd9"/>
<path d="M887.8,395.0L903.0,394.4L917.0,394.9L931.0,396.6L944.0,399.4L957.0,403.4L970.0,408.8L982.0,415.0L992.9,422.0L1003.1,430.0L1012.0,438.6L1019.9,448.0L1027.5,459.0L1034.2,471.0L1039.6,483.0L1043.7,495.0L1046.4,507.0L1047.7,518.0L1047.8,529.0L1046.6,540.0L1044.0,552.0L1040.4,563.0L1035.2,575.0L1029.1,586.0L1021.8,597.0L1013.1,608.0L1003.9,618.0L993.1,628.0L982.0,636.9L971.0,644.4L959.0,651.5L946.0,657.9L933.0,663.1L911.0,669.5L889.0,673.5L865.0,675.4L841.0,674.9L819.0,672.4L796.0,667.7L777.0,662.3L741.4,650.0L722.0,645.5L711.0,644.3L700.0,644.1L661.0,645.6L646.0,645.5L629.0,643.8L614.0,640.7L594.0,633.7L564.0,620.6L542.0,609.2L524.7,598.0L510.5,586.0L497.9,572.0L486.8,556.0L482.4,548.0L479.5,541.0L477.8,535.0L476.8,528.0L476.9,522.0L478.2,514.0L480.3,507.0L483.8,499.0L488.2,491.0L493.0,484.1L503.9,472.0L517.0,461.2L553.0,438.3L559.9,435.0L567.5,433.0L578.0,431.6L589.0,431.0L601.0,431.2L622.0,433.5L658.0,440.8L670.0,442.7L684.0,443.4L700.0,442.3L719.9,439.0L740.3,434.0L809.0,411.8L838.0,403.6L863.0,398.2L887.8,395.0Z" fill="#fbe9d9"/>
<path d="M887.4,405.0L901.0,404.8L914.0,405.6L927.0,407.4L939.0,410.2L951.0,414.1L962.0,418.7L973.0,424.4L983.1,431.0L992.0,438.1L1000.1,446.0L1007.5,455.0L1014.3,465.0L1020.3,476.0L1024.9,487.0L1028.4,498.0L1030.6,509.0L1031.6,519.0L1031.4,530.0L1030.2,540.0L1027.7,551.0L1024.4,561.0L1019.5,572.0L1013.3,583.0L1006.5,593.0L998.5,603.0L989.1,613.0L979.2,622.0L969.0,630.0L958.0,637.5L947.0,643.8L935.0,649.6L923.0,654.3L902.0,660.4L881.0,664.1L859.0,665.7L836.0,665.1L815.0,662.5L795.0,658.5L778.0,653.7L743.0,642.0L725.0,637.9L706.0,636.3L671.0,636.7L656.0,636.2L639.0,634.3L622.0,630.8L599.0,623.6L576.0,614.4L556.0,604.5L540.0,594.6L526.0,583.3L514.4,571.0L504.7,557.0L498.4,544.0L496.4,537.0L495.5,530.0L495.6,524.0L496.8,517.0L499.0,510.0L502.2,503.0L507.0,495.0L512.0,488.4L523.6,477.0L538.0,467.0L555.0,458.1L580.0,447.6L588.0,445.3L598.0,443.6L620.0,442.4L640.0,444.0L681.0,450.7L693.0,451.1L706.0,449.9L723.0,446.9L742.0,442.0L805.0,421.6L834.0,413.5L862.0,407.7L887.4,405.0Z" fill="#fbe7d7"/>
<path d="M874.2,414.0L888.0,413.2L901.0,413.4L913.0,414.5L925.0,416.5L937.0,419.5L948.0,423.4L959.0,428.4L969.0,434.2L978.0,440.6L986.0,447.5L993.0,455.0L999.8,464.0L1005.9,474.0L1010.6,484.0L1014.2,494.0L1016.9,505.0L1018.2,515.0L1018.5,525.0L1017.7,535.0L1015.6,546.0L1012.5,556.0L1008.4,566.0L1003.2,576.0L996.8,586.0L989.2,596.0L981.0,605.0L971.6,614.0L961.8,622.0L951.0,629.5L940.1,636.0L929.0,641.5L917.0,646.4L897.0,652.4L876.0,656.2L854.0,657.8L832.0,657.1L813.0,654.8L794.0,650.9L778.0,646.4L745.0,635.7L728.0,631.7L711.0,629.9L677.0,629.3L661.0,628.3L642.0,625.9L624.0,622.2L604.0,616.3L584.0,608.7L567.0,600.6L551.2,591.0L538.4,581.0L527.8,570.0L519.3,558.0L513.5,546.0L510.7,534.0L511.1,523.0L514.7,511.0L521.5,499.0L531.0,488.1L542.0,479.3L556.0,471.1L572.0,464.3L587.0,459.4L602.0,455.6L616.0,453.2L629.0,451.9L651.0,452.2L691.0,457.4L701.0,457.4L713.0,455.9L727.0,453.0L742.1,449.0L799.0,430.5L826.0,422.7L851.0,417.2L874.2,414.0Z" fill="#fbe3d5"/>
<path d="M873.5,421.0L887.0,420.5L899.0,420.8L911.0,422.0L922.0,424.0L933.0,426.9L943.0,430.4L953.0,435.0L962.0,440.2L970.1,446.0L978.1,453.0L985.0,460.5L991.2,469.0L996.5,478.0L1000.5,487.0L1003.8,497.0L1006.0,507.0L1007.0,516.0L1007.1,526.0L1006.0,536.0L1003.9,546.0L1000.7,556.0L996.9,565.0L991.5,575.0L985.6,584.0L978.5,593.0L970.2,602.0L961.6,610.0L952.0,617.7L942.0,624.6L932.0,630.4L921.0,635.8L910.0,640.3L891.0,645.9L871.0,649.5L850.0,650.9L828.0,650.1L810.0,647.8L793.0,644.3L778.0,640.2L745.0,629.7L728.0,625.7L713.0,623.9L679.0,622.4L659.0,620.8L640.0,618.3L623.0,614.8L605.0,609.6L589.0,603.5L573.0,595.7L558.8,587.0L547.3,578.0L537.7,568.0L530.6,558.0L525.5,547.0L523.0,536.0L523.4,525.0L526.7,514.0L532.8,503.0L541.0,493.5L551.0,485.3L563.0,478.3L577.0,472.4L591.0,468.1L606.0,464.8L644.0,460.7L665.0,460.3L699.0,463.3L715.0,461.9L742.0,455.2L796.0,437.4L822.0,429.9L849.0,424.0L873.5,421.0Z" fill="#fbdfd1"/>
<path d="M880.5,427.0L904.0,428.0L915.0,429.6L925.0,432.0L935.0,435.2L944.0,439.0L953.0,443.8L960.7,449.0L968.1,455.0L975.0,462.0L980.6,469.0L985.7,477.0L989.7,485.0L993.0,494.0L995.3,503.0L996.6,512.0L997.1,521.0L996.6,530.0L995.2,539.0L992.6,549.0L989.4,558.0L985.1,567.0L979.8,576.0L974.2,584.0L967.6,592.0L959.9,600.0L951.0,607.9L942.0,614.8L923.0,626.4L913.0,631.1L902.0,635.4L884.0,640.5L865.0,643.7L845.0,644.8L825.0,643.9L808.0,641.6L791.0,638.1L744.0,623.9L727.0,619.9L708.0,617.6L650.0,613.7L636.0,611.9L624.0,609.4L608.0,604.8L593.0,599.0L578.7,592.0L565.6,584.0L555.0,575.7L546.5,567.0L540.1,558.0L535.5,548.0L533.2,537.0L533.6,527.0L536.4,517.0L541.8,507.0L549.0,498.2L558.0,490.7L569.0,484.1L582.0,478.5L601.0,473.2L621.0,470.2L650.0,469.6L678.0,468.1L705.0,468.8L716.0,467.7L738.0,462.1L793.0,443.6L822.0,435.4L853.0,429.3L867.0,427.7L880.5,427.0Z" fill="#fbdacd"/>
<path d="M873.2,433.0L897.0,433.4L917.0,436.5L926.0,439.0L935.0,442.3L943.0,446.2L951.0,451.0L958.0,456.1L965.0,462.5L970.8,469.0L975.8,476.0L980.1,484.0L983.4,492.0L985.7,500.0L987.3,509.0L987.9,518.0L987.7,527.0L986.5,536.0L984.4,545.0L981.4,554.0L977.4,563.0L972.3,572.0L966.8,580.0L960.4,588.0L952.7,596.0L945.0,603.0L936.0,609.9L926.9,616.0L917.0,621.5L897.0,630.2L880.0,635.1L862.0,638.1L843.0,639.2L824.0,638.4L807.0,636.2L790.0,632.7L740.0,617.7L722.0,613.7L700.0,611.2L651.0,609.0L639.0,607.5L628.0,605.4L613.0,601.2L599.0,596.0L585.0,589.3L572.9,582.0L562.4,574.0L554.5,566.0L548.7,558.0L544.6,549.0L542.5,539.0L542.8,529.0L545.6,519.0L550.3,510.0L557.0,501.8L566.0,494.2L576.5,488.0L588.0,483.2L606.0,478.3L626.0,475.5L640.0,475.1L670.0,476.3L709.0,474.1L717.0,473.2L734.0,468.7L787.0,450.4L814.0,442.4L845.0,435.9L860.0,433.9L873.2,433.0Z" fill="#fbd3ca"/>
<path d="M860.3,439.0L884.0,438.2L905.0,440.0L923.0,444.3L931.0,447.4L939.0,451.3L947.0,456.3L954.0,461.8L960.0,467.5L965.5,474.0L970.1,481.0L973.5,488.0L976.4,496.0L978.3,504.0L979.4,513.0L979.6,522.0L978.8,531.0L977.1,540.0L974.5,549.0L971.3,557.0L966.8,566.0L961.7,574.0L955.7,582.0L948.5,590.0L941.0,597.1L932.5,604.0L923.9,610.0L914.0,615.8L894.0,624.8L877.0,629.9L860.0,633.0L842.0,634.2L823.0,633.5L806.0,631.3L788.0,627.6L770.0,622.6L737.0,612.2L718.6,608.0L698.5,606.0L655.0,605.1L633.0,602.0L619.0,598.3L606.0,593.6L593.0,587.6L581.0,580.8L571.6,574.0L564.0,567.0L557.8,559.0L553.8,551.0L551.5,542.0L551.6,532.0L553.7,523.0L558.0,513.9L563.9,506.0L572.0,498.7L582.0,492.5L593.0,487.7L611.0,482.7L631.0,480.0L649.0,479.6L684.0,482.0L696.0,481.2L718.0,478.4L732.0,474.6L779.0,457.5L805.0,449.3L834.0,442.6L860.3,439.0Z" fill="#facbc7"/>
<path d="M857.0,444.0L880.0,443.1L900.0,444.6L917.0,448.3L925.0,451.2L933.0,455.0L940.0,459.1L947.0,464.3L953.2,470.0L958.4,476.0L962.5,482.0L966.1,489.0L968.7,496.0L970.7,504.0L971.7,512.0L971.9,521.0L971.2,530.0L969.5,539.0L966.8,548.0L963.6,556.0L959.5,564.0L954.4,572.0L948.3,580.0L942.0,587.0L934.6,594.0L926.0,600.9L908.0,612.3L889.0,620.7L873.0,625.5L856.0,628.5L838.0,629.6L820.0,628.8L802.0,626.4L784.0,622.5L766.0,617.3L735.0,607.1L719.0,603.4L701.0,601.7L660.0,601.5L648.0,600.4L637.0,598.4L624.0,595.0L611.0,590.3L598.0,584.3L587.1,578.0L578.0,571.4L571.3,565.0L566.0,558.0L562.6,551.0L560.6,542.0L560.9,533.0L563.2,524.0L567.7,515.0L574.0,507.1L581.1,501.0L589.3,496.0L600.0,491.3L619.0,486.2L640.0,483.7L660.0,483.7L693.0,486.7L701.0,486.4L711.0,484.9L730.0,480.3L776.0,462.7L802.0,454.3L830.0,447.7L857.0,444.0Z" fill="#fac1c4"/>
<path d="M863.6,448.0L885.0,448.0L902.2,450.0L918.0,454.4L932.0,461.1L939.0,465.8L945.0,470.8L950.0,476.0L954.6,482.0L960.7,494.0L962.8,501.0L964.2,509.0L964.8,517.0L964.5,525.0L963.5,533.0L961.3,542.0L958.6,550.0L955.0,558.0L945.6,573.0L933.1,587.0L918.6,599.0L901.0,609.7L883.0,617.4L868.0,621.7L852.0,624.4L835.0,625.3L818.0,624.6L801.0,622.3L782.0,618.2L763.0,612.7L734.0,602.7L720.0,599.4L704.0,598.0L665.0,598.1L653.9,597.0L642.5,595.0L631.0,592.0L619.0,587.7L606.5,582.0L595.9,576.0L587.5,570.0L581.0,564.0L576.3,558.0L572.9,551.0L571.3,543.0L571.7,534.0L574.2,525.0L578.3,517.0L583.8,510.0L590.7,504.0L599.0,498.9L610.0,494.2L629.0,489.4L650.0,487.2L669.0,487.4L701.0,490.6L714.0,489.6L728.0,485.8L773.0,467.7L802.0,458.2L817.0,454.4L833.0,451.3L848.0,449.2L863.6,448.0Z" fill="#fab6c0"/>
<path d="M850.8,453.0L873.0,452.1L891.0,453.1L907.0,456.2L921.0,461.5L928.0,465.3L934.9,470.0L940.7,475.0L945.3,480.0L949.6,486.0L952.8,492.0L956.9,505.0L958.0,513.0L958.1,521.0L957.4,529.0L955.9,537.0L953.5,545.0L950.3,553.0L942.0,567.3L930.0,581.8L916.0,594.0L900.0,604.3L882.0,612.6L867.0,617.3L851.0,620.3L834.0,621.5L816.0,620.8L798.0,618.3L779.0,614.1L761.0,608.7L734.0,599.0L723.0,596.3L708.0,594.8L672.0,594.6L653.0,592.2L641.0,589.2L627.0,584.5L616.0,580.3L607.0,575.9L599.4,571.0L593.5,566.0L588.4,560.0L585.2,554.0L583.5,547.0L583.8,540.0L587.0,528.3L590.9,520.0L596.2,513.0L602.9,507.0L610.8,502.0L619.9,498.0L629.0,495.1L638.0,493.2L659.0,490.8L678.0,490.9L707.0,493.8L718.6,493.0L728.8,490.0L767.0,473.7L795.0,463.8L823.0,456.9L850.8,453.0Z" fill="#f9a8ba"/>
<path d="M849.1,457.0L871.0,456.2L889.0,457.4L904.0,460.4L918.0,465.8L930.0,473.3L935.5,478.0L940.1,483.0L943.8,488.0L947.0,494.0L949.2,500.0L950.9,507.0L951.8,514.0L951.9,522.0L949.6,537.0L944.1,552.0L935.8,566.0L924.0,579.9L910.0,591.9L894.0,602.0L877.0,609.7L862.0,614.3L846.0,617.1L829.0,618.0L812.0,617.1L794.0,614.5L776.0,610.3L761.0,605.7L735.0,596.1L725.0,593.5L711.0,591.8L679.0,591.0L663.7,589.0L633.0,581.5L624.0,578.5L616.0,575.0L607.5,570.0L601.2,565.0L596.0,559.0L592.7,553.0L591.3,547.0L591.6,541.0L593.6,535.0L597.5,529.0L602.0,524.2L617.9,510.0L625.9,505.0L634.0,501.4L650.1,497.0L669.0,494.6L686.0,494.4L713.0,496.6L723.0,495.6L732.0,492.8L769.0,476.4L794.0,467.6L821.0,460.9L849.1,457.0Z" fill="#f899b5"/>
<path d="M845.5,461.0L866.0,460.1L884.0,461.2L899.1,464.0L913.0,469.1L925.0,476.3L930.6,481.0L935.0,485.8L941.3,496.0L945.0,508.0L946.0,522.0L945.2,530.0L943.7,537.0L938.3,551.0L930.0,564.4L919.0,577.3L905.4,589.0L889.8,599.0L873.0,606.6L854.0,612.0L834.0,614.5L813.0,614.2L791.0,611.1L768.0,605.2L737.0,593.8L727.0,590.9L715.0,589.1L682.0,586.8L648.0,580.8L636.0,577.8L623.3,573.0L613.0,567.0L605.2,560.0L602.3,556.0L600.4,552.0L599.2,546.0L600.1,539.0L603.0,533.0L608.1,527.0L614.0,522.3L621.3,518.0L651.1,505.0L664.8,501.0L681.0,498.5L696.0,497.9L718.0,499.0L726.8,498.0L735.0,495.2L768.0,480.2L792.0,471.5L819.0,464.7L845.5,461.0Z" fill="#f889af"/>
<path d="M840.7,465.0L860.0,464.0L878.0,464.8L893.0,467.2L907.0,471.8L919.0,478.4L928.7,487.0L932.5,492.0L935.4,497.0L939.0,508.0L940.1,515.0L940.3,522.0L938.4,535.0L933.6,548.0L925.1,562.0L913.9,575.0L900.0,586.9L885.0,596.4L869.0,603.7L851.0,608.8L831.0,611.4L810.0,611.0L789.0,607.9L767.0,602.2L738.0,591.2L727.0,587.9L718.0,586.3L694.0,583.6L677.0,579.8L655.0,577.7L639.1,574.0L628.0,569.6L618.8,564.0L612.4,558.0L608.4,551.0L607.3,546.0L607.8,541.0L609.7,536.0L612.4,532.0L616.3,528.0L621.6,524.0L628.0,520.4L635.0,517.4L647.0,513.8L666.0,510.1L678.0,505.8L689.6,503.0L702.0,501.4L723.0,501.3L730.0,500.3L738.0,497.4L767.0,483.9L790.0,475.4L815.0,468.8L840.7,465.0Z" fill="#f278aa"/>
<path d="M848.9,468.0L867.0,468.0L883.0,469.7L897.0,473.1L909.0,478.3L919.0,485.1L923.1,489.0L927.0,494.0L931.9,504.0L934.2,515.0L934.2,527.0L931.5,539.0L925.9,551.0L916.8,564.0L905.4,576.0L893.0,586.0L878.1,595.0L863.0,601.5L846.0,606.1L827.0,608.3L807.0,607.8L787.0,604.8L765.6,599.0L731.0,585.9L702.8,580.0L688.0,575.3L662.0,574.2L652.0,572.5L643.0,570.1L633.0,566.0L626.0,561.7L620.1,556.0L616.8,550.0L616.0,546.0L616.2,542.0L617.6,538.0L620.1,534.0L623.9,530.0L629.0,526.3L641.0,520.6L649.6,518.0L659.0,516.2L683.0,514.3L695.0,509.0L708.0,505.4L732.0,502.9L739.9,500.0L769.7,486.0L794.0,477.4L808.0,473.6L821.0,471.0L835.0,469.0L848.9,468.0Z" fill="#eb68a6"/>
<path d="M841.2,472.0L859.0,471.6L876.0,473.0L890.0,475.9L902.0,480.3L912.0,486.3L919.9,494.0L925.2,503.0L928.2,514.0L928.6,526.0L926.3,537.0L921.0,548.7L912.4,561.0L901.2,573.0L888.9,583.0L875.0,591.6L860.0,598.3L843.0,603.0L825.0,605.2L806.0,604.8L786.0,601.9L764.0,595.7L734.0,583.6L709.0,575.8L695.0,569.3L679.0,570.3L669.0,570.1L658.0,568.7L648.0,566.1L640.3,563.0L633.8,559.0L628.6,554.0L626.0,549.1L625.4,546.0L625.7,542.0L627.3,538.0L629.5,535.0L636.7,529.0L647.0,524.2L657.0,521.5L668.0,520.0L678.0,519.7L695.0,520.5L703.4,515.0L711.4,511.0L720.2,508.0L733.0,505.7L738.0,504.3L765.5,491.0L787.0,482.8L801.0,478.6L814.0,475.6L828.0,473.3L841.2,472.0Z" fill="#e556a2"/>
<path d="M835.1,476.0L852.0,475.4L869.0,476.4L884.0,479.0L896.0,483.0L906.6,489.0L914.0,496.0L919.0,504.0L922.0,514.0L922.7,525.0L920.7,536.0L916.0,546.3L907.9,558.0L897.0,569.8L884.7,580.0L871.0,588.6L856.8,595.0L840.0,599.8L823.0,601.9L805.0,601.7L786.0,599.0L773.9,596.0L762.0,592.0L722.5,575.0L711.0,569.0L701.0,561.7L699.0,561.5L688.0,564.0L679.0,564.9L670.0,564.7L661.0,563.4L652.3,561.0L645.8,558.0L640.5,554.0L637.0,549.0L636.2,546.0L636.4,543.0L638.7,538.0L644.2,533.0L652.3,529.0L664.0,526.0L676.0,525.1L688.0,526.0L701.0,529.3L703.0,529.3L713.2,520.0L722.2,514.0L728.4,511.0L741.0,506.7L759.9,497.0L773.4,491.0L788.0,485.7L804.0,481.1L819.1,478.0L835.1,476.0Z" fill="#db459c"/>
<path d="M830.4,480.0L845.0,479.2L860.0,479.7L874.0,481.5L886.0,484.5L895.0,488.2L903.0,493.3L909.0,499.5L913.3,507.0L915.8,516.0L916.4,526.0L914.7,535.0L911.3,543.0L904.7,553.0L895.0,564.2L884.2,574.0L873.0,581.9L864.0,587.0L855.0,591.0L845.0,594.4L835.0,596.8L825.0,598.2L814.0,598.7L803.0,598.3L792.0,597.0L781.0,594.8L769.0,591.3L757.8,587.0L747.1,582.0L732.3,574.0L722.7,568.0L715.2,562.0L710.1,556.0L708.2,552.0L707.3,547.0L708.0,543.0L709.9,539.0L715.1,532.0L721.6,525.0L728.5,519.0L735.7,514.0L761.1,500.0L782.0,491.1L806.0,484.0L818.0,481.6L830.4,480.0ZM666.9,533.0L674.0,532.2L681.0,532.4L687.0,533.4L693.0,535.4L697.5,538.0L700.4,541.0L701.7,545.0L700.9,548.0L698.7,551.0L694.3,554.0L689.2,556.0L684.0,557.2L678.0,557.8L671.0,557.6L665.0,556.6L659.0,554.6L654.5,552.0L651.6,549.0L650.4,546.0L650.7,543.0L652.4,540.0L656.0,537.0L661.0,534.6L666.9,533.0Z" fill="#ce3494"/>
<path d="M827.0,484.0L841.0,483.2L854.0,483.5L867.9,485.0L879.0,487.4L888.0,490.7L895.5,495.0L901.0,500.0L905.8,507.0L908.8,516.0L909.6,525.0L908.5,533.0L905.4,541.0L899.7,550.0L891.2,560.0L881.7,569.0L871.2,577.0L863.0,582.0L854.0,586.4L844.4,590.0L835.0,592.5L825.0,594.2L815.0,595.0L805.0,594.9L794.0,593.8L784.0,591.9L773.0,589.0L762.2,585.0L753.0,580.7L744.7,576.0L736.2,570.0L726.7,562.0L721.4,556.0L718.9,551.0L718.3,547.0L719.0,543.0L721.0,539.0L725.8,533.0L733.6,525.0L752.5,509.0L768.9,500.0L787.0,492.8L807.0,487.3L827.0,484.0Z" fill="#c1228c"/>
<path d="M824.9,488.0L837.0,487.2L850.0,487.5L863.0,488.9L874.0,491.2L882.1,494.0L889.2,498.0L894.8,503.0L898.8,509.0L901.3,516.0L902.4,524.0L901.6,532.0L899.1,539.0L894.2,547.0L886.8,556.0L878.0,564.6L868.8,572.0L861.0,577.2L852.0,581.9L844.0,585.2L834.7,588.0L825.0,589.9L816.0,590.9L806.0,591.0L796.0,590.2L786.0,588.6L776.0,586.0L766.0,582.4L756.7,578.0L750.2,574.0L745.2,570.0L730.9,555.0L728.8,551.0L728.0,547.0L728.4,543.0L729.8,540.0L736.3,532.0L749.5,519.0L754.6,513.0L758.0,510.3L771.0,502.9L788.0,496.1L806.4,491.0L824.9,488.0Z" fill="#b31084"/>
<path d="M824.5,492.0L844.0,491.6L864.2,494.0L877.0,498.0L882.4,501.0L887.1,505.0L890.8,510.0L893.4,516.0L894.7,523.0L894.6,529.0L893.2,535.0L890.9,540.0L887.0,546.0L881.1,553.0L867.2,566.0L853.0,575.5L838.0,582.0L830.0,584.3L820.9,586.0L812.0,586.8L803.0,586.8L794.0,586.0L784.0,584.1L775.0,581.5L766.1,578.0L758.6,574.0L753.3,570.0L739.3,553.0L737.1,548.0L736.9,544.0L737.8,541.0L740.3,537.0L755.7,521.0L760.0,514.6L764.3,511.0L771.0,507.1L787.0,500.2L806.0,494.9L824.5,492.0Z" fill="#a40c80"/>
<path d="M829.5,496.0L848.0,496.7L864.0,499.4L870.0,501.5L874.7,504.0L878.6,507.0L881.3,510.0L884.0,514.4L885.9,520.0L886.6,526.0L886.0,532.0L884.2,537.0L881.4,542.0L872.0,553.0L859.6,564.0L846.0,572.7L832.0,578.5L817.0,581.7L801.0,582.3L785.0,580.0L770.0,574.9L764.0,571.7L759.3,568.0L747.0,550.0L745.5,546.0L745.5,543.0L746.4,540.0L748.3,537.0L761.7,523.0L766.0,515.6L770.0,512.4L776.0,509.0L793.0,502.3L811.0,497.9L829.5,496.0Z" fill="#95097d"/>
<path d="M822.9,501.0L838.0,501.1L853.9,503.0L863.0,505.7L870.1,510.0L872.9,513.0L875.3,517.0L877.0,522.0L877.6,527.0L877.3,531.0L876.1,535.0L874.0,539.2L870.5,544.0L858.5,556.0L846.7,565.0L835.0,571.2L821.0,575.7L806.0,577.5L792.0,576.6L778.0,573.0L771.4,570.0L766.9,567.0L763.3,563.0L759.9,555.0L755.4,548.0L754.2,545.0L754.1,542.0L755.1,539.0L757.1,536.0L768.5,524.0L771.1,518.0L774.6,515.0L779.0,512.4L792.0,507.0L807.3,503.0L822.9,501.0Z" fill="#85067a"/>
<path d="M813.3,507.0L826.0,506.3L841.0,507.2L851.0,509.0L858.2,512.0L863.7,517.0L866.7,524.0L867.2,528.0L866.8,532.0L863.6,539.0L854.5,549.0L842.3,559.0L832.1,565.0L821.0,569.2L809.0,571.6L797.0,571.7L785.0,569.5L779.0,567.3L774.7,565.0L772.0,562.8L769.9,560.0L767.8,552.0L763.5,544.0L763.3,540.0L764.8,537.0L774.8,526.0L777.3,520.0L781.1,517.0L787.0,513.9L795.0,511.0L804.0,508.6L813.3,507.0Z" fill="#760477"/>
<path d="M814.1,513.0L823.0,512.8L836.0,513.8L843.0,515.2L848.0,517.5L852.0,521.4L854.2,527.0L854.0,533.0L851.5,538.0L843.7,546.0L833.8,554.0L826.0,558.6L817.0,562.3L807.0,564.6L798.0,564.9L788.0,563.2L780.9,560.0L777.5,556.0L776.6,548.0L774.0,543.0L773.3,540.0L774.9,536.0L782.1,528.0L784.0,523.1L788.0,520.0L795.0,517.0L805.0,514.3L814.1,513.0Z" fill="#670272"/>
<path d="M809.2,522.0L823.0,522.2L831.0,524.1L833.6,526.0L835.3,529.0L835.6,533.0L834.3,536.0L830.4,540.0L822.0,546.7L816.6,550.0L811.0,552.4L805.6,554.0L800.0,554.6L794.6,554.0L790.0,552.2L787.8,549.0L788.2,543.0L786.8,538.0L787.3,536.0L791.4,531.0L793.0,527.6L794.9,526.0L801.0,523.5L809.2,522.0Z" fill="#5a016f"/>
</g>
<path d="M162.0,236.6L165.3,245.7L168.3,255.7L170.8,266.3L173.2,277.7L175.4,289.7L177.8,302.3L180.4,315.4L183.3,329.0L186.6,343.0L190.3,357.4L194.6,372.1L199.5,387.2L205.1,402.5L211.4,418.0L218.4,433.8L226.2,449.6L234.8,465.6L244.3,481.7L254.6,497.9L265.8,514.0L277.9,530.2L290.9,546.3L304.9,562.3L319.8,578.2L335.7,594.0L352.6,609.6L370.6,625.1L389.6,640.2L409.7,655.2L430.9,669.8L453.3,684.0L477.0,697.9L502.0,711.4L528.4,724.4L556.4,736.8L586.2,748.7L618.1,759.9L652.3,770.3L689.6,779.7L730.6,787.9L775.7,794.3L819.5,797.1L852.2,794.3L877.9,787.9L899.8,779.7L919.5,770.3L937.5,759.9L954.4,748.7L970.3,736.8L985.4,724.4L999.9,711.4L1013.7,697.9L1027.1,684.0L1039.9,669.8L1052.2,655.2L1064.1,640.2L1075.5,625.1L1086.6,609.6L1097.2,594.0L1107.4,578.2L1117.3,562.3L1126.7,546.3L1135.8,530.2L1144.5,514.0L1152.9,497.9L1160.9,481.7L1168.6,465.6L1176.0,449.6L1183.0,433.8L1189.8,418.0L1196.3,402.5L1202.5,387.2L1208.5,372.1L1214.3,357.4L1219.9,343.0L1225.4,329.0L1230.9,315.4L1236.3,302.3L1241.7,289.7L1247.2,277.7L1253.0,266.3L1259.0,255.7L1265.4,245.7L1272.4,236.6L1279.9,228.4L1288.3,221.1L1297.5,214.8L1307.8,209.6L1319.2,205.4L1331.9,202.4L1345.9,200.6L1361.2,200.0L1378.0,200.6L1395.9,202.4L1415.1,205.4L1435.3,209.6L1456.3,214.8L1478.0,221.1L1500.1,228.4L1513.5,228.4A770.0,385.0 0 1 1 162.0,236.6Z" fill="#00bfff" fill-opacity=".25" stroke="#00bfff" stroke-opacity=".5" stroke-width="2.8" stroke-linejoin="round"/>
<g class="det" transform="translate(0,1)">
<path d="M858.5,568.4L858.6,572.7L858.4,577.0L857.9,581.3L857.0,585.5L855.7,589.6L854.2,593.6L852.3,597.4L850.1,601.0L847.6,604.3L844.9,607.4L841.8,610.2L838.6,612.7L835.1,614.8L831.4,616.6L827.6,618.0L823.7,619.0L819.6,619.6L815.6,619.8L811.4,619.6L807.4,619.0L803.3,618.0L799.4,616.6L795.5,614.8L791.8,612.7L788.3,610.2L785.0,607.4L782.0,604.3L779.2,601.0L776.7,597.4L774.5,593.6L772.6,589.6L771.0,585.5L769.8,581.3L769.0,577.0L768.4,572.7L768.3,568.4L768.4,564.1L768.9,559.8L769.8,555.6L771.0,551.6L772.4,547.6L774.2,543.9L776.3,540.4L778.6,537.0L781.2,533.9L784.0,531.1L787.1,528.6L790.3,526.4L793.6,524.4L797.1,522.9L800.7,521.6L804.4,520.7L808.2,520.2L812.0,520.0L815.8,520.2L819.6,520.7L823.3,521.6L827.0,522.9L830.6,524.4L834.0,526.4L837.3,528.6L840.5,531.1L843.4,533.9L846.2,537.0L848.7,540.4L851.0,543.9L853.0,547.6L854.7,551.6L856.1,555.6L857.2,559.8L858.0,564.1Z"/>
<path d="M970.8,570.8L970.4,575.2L969.5,579.5L968.3,583.8L966.8,588.0L964.9,592.1L962.7,596.0L960.2,599.8L957.4,603.4L954.3,606.7L951.0,609.8L947.4,612.6L943.7,615.1L939.8,617.2L935.8,619.0L931.7,620.4L927.5,621.4L923.3,622.0L919.2,622.2L915.1,622.0L911.1,621.4L907.3,620.4L903.6,619.0L900.1,617.2L896.8,615.1L893.8,612.6L891.0,609.8L888.5,606.7L886.3,603.4L884.4,599.8L882.8,596.0L881.6,592.1L880.7,588.0L880.1,583.8L879.9,579.5L880.0,575.2L880.4,570.8L881.2,566.5L882.3,562.3L883.6,558.1L885.3,554.1L887.3,550.2L889.5,546.4L892.0,542.9L894.7,539.6L897.6,536.5L900.7,533.7L903.9,531.1L907.4,528.9L910.9,527.0L914.6,525.4L918.3,524.2L922.1,523.3L925.9,522.8L929.7,522.6L933.5,522.8L937.2,523.3L940.9,524.2L944.5,525.4L947.9,527.0L951.2,528.9L954.3,531.1L957.2,533.7L959.9,536.5L962.3,539.6L964.4,542.9L966.3,546.4L967.9,550.2L969.2,554.1L970.1,558.1L970.7,562.3L970.9,566.5Z"/>
<path d="M1183.9,566.2L1182.4,570.6L1180.4,574.9L1178.0,579.2L1175.3,583.4L1172.3,587.5L1168.9,591.5L1165.2,595.3L1161.3,598.9L1157.1,602.2L1152.8,605.3L1148.3,608.1L1143.7,610.6L1139.1,612.7L1134.5,614.5L1129.9,615.9L1125.4,616.9L1121.0,617.5L1116.9,617.8L1112.9,617.5L1109.1,616.9L1105.7,615.9L1102.5,614.5L1099.6,612.7L1097.1,610.6L1094.9,608.1L1093.1,605.3L1091.6,602.2L1090.5,598.9L1089.7,595.3L1089.3,591.5L1089.3,587.5L1089.6,583.4L1090.2,579.2L1091.1,574.9L1092.3,570.6L1093.8,566.2L1095.7,561.9L1097.7,557.7L1100.1,553.5L1102.6,549.4L1105.4,545.5L1108.4,541.7L1111.6,538.2L1114.9,534.8L1118.4,531.7L1122.0,528.9L1125.7,526.4L1129.5,524.1L1133.4,522.2L1137.3,520.6L1141.2,519.4L1145.1,518.5L1149.0,517.9L1152.8,517.8L1156.6,517.9L1160.2,518.5L1163.7,519.4L1167.1,520.6L1170.2,522.2L1173.2,524.1L1175.9,526.4L1178.3,528.9L1180.5,531.7L1182.3,534.8L1183.8,538.2L1185.0,541.7L1185.8,545.5L1186.2,549.4L1186.3,553.5L1185.9,557.7L1185.1,561.9Z"/>
<path d="M821.3,320.1L820.9,324.5L820.1,329.0L819.1,333.3L817.7,337.5L816.0,341.6L814.1,345.6L811.9,349.3L809.4,352.8L806.8,356.0L803.9,359.0L800.8,361.6L797.6,364.0L794.2,366.0L790.7,367.7L787.1,369.0L783.4,369.9L779.7,370.5L776.0,370.7L772.3,370.5L768.6,369.9L765.0,369.0L761.4,367.7L758.0,366.0L754.7,364.0L751.6,361.6L748.7,359.0L745.9,356.0L743.5,352.8L741.2,349.3L739.3,345.6L737.6,341.6L736.2,337.5L735.2,333.3L734.4,329.0L734.0,324.5L734.0,320.1L734.3,315.6L734.9,311.1L735.9,306.7L737.2,302.4L738.8,298.2L740.7,294.1L743.0,290.3L745.5,286.6L748.3,283.2L751.3,280.1L754.5,277.3L757.9,274.8L761.5,272.6L765.2,270.8L769.0,269.4L772.9,268.4L776.8,267.8L780.7,267.6L784.6,267.8L788.5,268.4L792.2,269.4L795.8,270.8L799.3,272.6L802.5,274.8L805.6,277.3L808.5,280.1L811.1,283.2L813.4,286.6L815.5,290.3L817.3,294.1L818.7,298.2L819.9,302.4L820.8,306.7L821.3,311.1L821.5,315.6Z"/>
<path d="M868.7,110.9L867.2,114.0L865.4,117.1L863.2,120.1L860.7,123.0L857.9,125.8L854.9,128.4L851.5,130.8L848.0,133.1L844.2,135.2L840.2,137.2L836.1,138.9L831.8,140.4L827.4,141.7L823.0,142.7L818.4,143.5L813.9,144.1L809.3,144.5L804.7,144.6L800.1,144.5L795.6,144.1L791.2,143.5L786.9,142.7L782.8,141.7L778.7,140.4L774.9,138.9L771.3,137.2L767.9,135.2L764.7,133.1L761.9,130.8L759.3,128.4L757.0,125.8L755.1,123.0L753.6,120.1L752.4,117.1L751.7,114.0L751.4,110.9L751.5,107.7L752.1,104.4L753.1,101.1L754.6,97.8L756.7,94.6L759.2,91.4L762.2,88.3L765.7,85.3L769.6,82.5L774.0,79.8L778.8,77.3L784.0,75.1L789.6,73.1L795.4,71.4L801.3,70.1L807.5,69.1L813.6,68.5L819.7,68.3L825.7,68.5L831.5,69.1L837.1,70.1L842.3,71.4L847.2,73.1L851.6,75.1L855.6,77.3L859.2,79.8L862.3,82.5L864.9,85.3L867.0,88.3L868.6,91.4L869.8,94.6L870.4,97.8L870.6,101.1L870.4,104.4L869.7,107.7Z"/>
<path d="M1093.5,312.0L1093.9,316.4L1094.0,320.8L1093.7,325.1L1093.0,329.3L1092.0,333.4L1090.7,337.3L1089.0,341.0L1087.0,344.5L1084.8,347.7L1082.3,350.6L1079.5,353.3L1076.5,355.6L1073.4,357.6L1070.0,359.3L1066.6,360.6L1063.0,361.5L1059.3,362.1L1055.6,362.3L1051.9,362.1L1048.1,361.5L1044.4,360.6L1040.7,359.3L1037.1,357.6L1033.6,355.6L1030.2,353.3L1026.9,350.6L1023.8,347.7L1020.9,344.5L1018.1,341.0L1015.6,337.3L1013.3,333.4L1011.3,329.3L1009.5,325.1L1008.0,320.8L1006.7,316.4L1005.8,312.0L1005.1,307.5L1004.8,303.0L1004.7,298.6L1005.0,294.3L1005.6,290.1L1006.5,286.1L1007.7,282.2L1009.2,278.6L1011.1,275.2L1013.2,272.1L1015.6,269.2L1018.3,266.7L1021.2,264.6L1024.4,262.8L1027.8,261.4L1031.3,260.4L1035.1,259.8L1039.0,259.5L1042.9,259.8L1047.0,260.4L1051.1,261.4L1055.1,262.8L1059.2,264.6L1063.1,266.7L1067.0,269.2L1070.7,272.1L1074.2,275.2L1077.5,278.6L1080.6,282.2L1083.4,286.1L1085.9,290.1L1088.1,294.3L1090.0,298.6L1091.5,303.0L1092.7,307.5Z"/>
<path d="M677.9,501.8L678.3,506.3L678.5,510.8L678.4,515.2L678.0,519.6L677.2,523.8L676.2,527.8L674.9,531.7L673.2,535.4L671.3,538.8L669.1,541.9L666.6,544.8L663.8,547.3L660.9,549.4L657.7,551.2L654.3,552.6L650.7,553.6L647.0,554.3L643.2,554.5L639.3,554.3L635.3,553.6L631.3,552.6L627.4,551.2L623.4,549.4L619.6,547.3L615.9,544.8L612.3,541.9L608.9,538.8L605.7,535.4L602.8,531.7L600.2,527.8L597.8,523.8L595.7,519.6L594.0,515.2L592.6,510.8L591.6,506.3L590.9,501.8L590.6,497.3L590.7,492.9L591.1,488.5L591.9,484.2L593.0,480.1L594.4,476.2L596.2,472.4L598.2,468.9L600.5,465.6L603.1,462.6L605.9,459.9L609.0,457.6L612.2,455.5L615.5,453.8L619.0,452.5L622.6,451.5L626.3,451.0L630.0,450.8L633.7,451.0L637.4,451.5L641.1,452.5L644.7,453.8L648.3,455.5L651.7,457.6L655.0,459.9L658.2,462.6L661.2,465.6L664.0,468.9L666.6,472.4L669.0,476.2L671.1,480.1L673.0,484.2L674.6,488.5L676.0,492.9L677.1,497.3Z"/>
<path d="M573.5,439.2L573.6,443.8L573.4,448.3L572.9,452.8L572.2,457.2L571.1,461.4L569.8,465.5L568.3,469.4L566.4,473.1L564.3,476.5L562.0,479.6L559.4,482.4L556.6,484.9L553.6,487.1L550.4,488.8L547.0,490.2L543.5,491.2L539.9,491.8L536.1,492.1L532.4,491.8L528.5,491.2L524.7,490.2L520.9,488.8L517.2,487.1L513.5,484.9L510.0,482.4L506.7,479.6L503.5,476.5L500.6,473.1L497.9,469.4L495.5,465.5L493.3,461.4L491.6,457.2L490.1,452.8L489.0,448.3L488.2,443.8L487.9,439.2L487.8,434.7L488.2,430.1L488.9,425.7L490.0,421.3L491.4,417.1L493.2,413.0L495.2,409.2L497.6,405.6L500.2,402.2L503.1,399.1L506.1,396.3L509.4,393.9L512.8,391.7L516.3,390.0L520.0,388.6L523.7,387.6L527.4,387.0L531.1,386.8L534.8,387.0L538.5,387.6L542.1,388.6L545.5,390.0L548.9,391.7L552.1,393.9L555.1,396.3L557.9,399.1L560.6,402.2L563.0,405.6L565.2,409.2L567.2,413.0L568.9,417.1L570.4,421.3L571.6,425.7L572.5,430.1L573.1,434.7Z"/>
<path d="M465.7,275.4L463.4,279.8L460.8,284.0L458.1,288.3L455.1,292.4L452.0,296.3L448.6,300.1L445.2,303.7L441.6,307.0L437.8,310.2L434.0,313.0L430.1,315.6L426.2,317.8L422.2,319.8L418.2,321.4L414.2,322.6L410.2,323.5L406.3,324.1L402.4,324.3L398.7,324.1L395.1,323.5L391.7,322.6L388.4,321.4L385.4,319.8L382.6,317.8L380.1,315.6L377.9,313.0L376.0,310.2L374.4,307.0L373.2,303.7L372.4,300.1L371.9,296.3L371.9,292.4L372.3,288.3L373.1,284.0L374.4,279.8L376.1,275.4L378.2,271.0L380.7,266.7L383.6,262.4L386.9,258.1L390.5,254.0L394.4,250.0L398.7,246.2L403.1,242.6L407.8,239.3L412.6,236.2L417.5,233.4L422.5,230.9L427.4,228.7L432.3,226.9L437.1,225.5L441.7,224.5L446.2,223.9L450.4,223.7L454.3,223.9L457.9,224.5L461.1,225.5L464.1,226.9L466.6,228.7L468.7,230.9L470.5,233.4L471.8,236.2L472.8,239.3L473.4,242.6L473.6,246.2L473.5,250.0L472.9,254.0L472.1,258.1L470.9,262.4L469.5,266.7L467.7,271.0Z"/>
<path d="M736.1,721.5L739.5,724.7L742.6,728.0L745.4,731.3L747.8,734.6L749.8,737.9L751.4,741.1L752.6,744.2L753.2,747.2L753.3,750.1L752.9,752.8L751.9,755.2L750.2,757.5L747.9,759.5L744.9,761.1L741.2,762.4L736.8,763.4L731.8,764.0L726.1,764.2L719.8,764.0L713.0,763.4L705.9,762.4L698.4,761.1L690.9,759.5L683.3,757.5L675.8,755.2L668.5,752.8L661.5,750.1L654.8,747.2L648.6,744.2L642.8,741.1L637.6,737.9L632.9,734.6L628.7,731.3L625.0,728.0L622.0,724.7L619.5,721.5L617.5,718.3L616.1,715.2L615.2,712.2L614.8,709.2L614.8,706.5L615.4,703.8L616.4,701.3L617.9,699.0L619.7,696.9L622.0,695.0L624.6,693.2L627.5,691.7L630.8,690.4L634.3,689.4L638.2,688.5L642.2,687.9L646.5,687.6L651.0,687.4L655.6,687.6L660.4,687.9L665.3,688.5L670.2,689.4L675.3,690.4L680.4,691.7L685.5,693.2L690.6,695.0L695.7,696.9L700.7,699.0L705.7,701.3L710.5,703.8L715.2,706.5L719.8,709.2L724.2,712.2L728.4,715.2L732.3,718.3Z"/>
<path d="M1344.4,720.2L1336.9,723.5L1328.7,726.8L1319.7,730.1L1310.0,733.4L1299.7,736.7L1288.8,739.9L1277.3,743.0L1265.4,746.0L1253.1,748.9L1240.7,751.6L1228.3,754.1L1216.0,756.3L1204.1,758.3L1192.8,760.0L1182.4,761.3L1173.0,762.3L1164.8,762.9L1158.1,763.1L1153.0,762.9L1149.3,762.3L1147.3,761.3L1146.7,760.0L1147.5,758.3L1149.5,756.3L1152.7,754.1L1156.8,751.6L1161.8,748.9L1167.6,746.0L1173.9,743.0L1180.8,739.9L1188.1,736.7L1195.7,733.4L1203.6,730.1L1211.7,726.8L1220.0,723.5L1228.3,720.2L1236.7,717.0L1245.2,713.9L1253.6,710.8L1262.0,707.9L1270.3,705.1L1278.5,702.4L1286.5,699.9L1294.4,697.6L1302.0,695.5L1309.4,693.5L1316.6,691.8L1323.5,690.3L1330.2,689.0L1336.4,687.9L1342.4,687.0L1348.0,686.4L1353.1,686.1L1357.9,685.9L1362.2,686.1L1366.0,686.4L1369.4,687.0L1372.2,687.9L1374.5,689.0L1376.2,690.3L1377.3,691.8L1377.8,693.5L1377.7,695.5L1376.9,697.6L1375.4,699.9L1373.2,702.4L1370.3,705.1L1366.6,707.9L1362.2,710.8L1357.1,713.9L1351.1,717.0Z"/>
<path d="M395.1,720.2L404.6,723.5L414.0,726.8L423.3,730.1L432.4,733.4L441.2,736.7L449.8,739.9L457.9,743.0L465.5,746.0L472.4,748.9L478.7,751.6L483.9,754.1L488.2,756.3L491.2,758.3L492.8,760.0L492.9,761.3L491.3,762.3L488.0,762.9L482.9,763.1L476.1,762.9L467.7,762.3L457.8,761.3L446.7,760.0L434.6,758.3L421.7,756.3L408.4,754.1L394.8,751.6L381.2,748.9L367.7,746.0L354.5,743.0L341.8,739.9L329.6,736.7L318.0,733.4L307.1,730.1L297.0,726.8L287.6,723.5L279.1,720.2L271.3,717.0L264.4,713.9L258.3,710.8L253.0,707.9L248.5,705.1L244.8,702.4L241.9,699.9L239.8,697.6L238.4,695.5L237.7,693.5L237.8,691.8L238.5,690.3L239.9,689.0L241.9,687.9L244.5,687.0L247.7,686.4L251.4,686.1L255.7,685.9L260.5,686.1L265.8,686.4L271.5,687.0L277.7,687.9L284.2,689.0L291.2,690.3L298.5,691.8L306.1,693.5L314.1,695.5L322.3,697.6L330.8,699.9L339.6,702.4L348.5,705.1L357.6,707.9L366.9,710.8L376.2,713.9L385.7,717.0Z"/>
<path d="M352.2,520.1L353.9,524.6L355.4,529.1L356.7,533.5L357.6,537.8L358.2,542.0L358.6,546.0L358.6,549.9L358.2,553.5L357.5,556.9L356.5,560.0L355.1,562.9L353.3,565.4L351.2,567.5L348.7,569.3L345.8,570.7L342.6,571.7L339.2,572.4L335.4,572.6L331.3,572.4L327.0,571.7L322.6,570.7L318.0,569.3L313.3,567.5L308.5,565.4L303.8,562.9L299.1,560.0L294.5,556.9L290.0,553.5L285.8,549.9L281.7,546.0L278.0,542.0L274.6,537.8L271.5,533.5L268.8,529.1L266.5,524.6L264.6,520.1L263.1,515.7L262.0,511.3L261.4,506.9L261.2,502.7L261.4,498.6L262.1,494.7L263.1,491.0L264.5,487.6L266.2,484.3L268.3,481.4L270.7,478.7L273.3,476.4L276.2,474.4L279.3,472.7L282.6,471.4L286.1,470.5L289.7,469.9L293.4,469.7L297.1,469.9L300.9,470.5L304.8,471.4L308.6,472.7L312.5,474.4L316.2,476.4L320.0,478.7L323.6,481.4L327.1,484.3L330.6,487.6L333.9,491.0L337.0,494.7L340.0,498.6L342.9,502.7L345.5,506.9L348.0,511.3L350.2,515.7Z"/>
<path d="M1085.5,296.4L1086.0,300.8L1086.1,305.1L1085.8,309.4L1085.2,313.6L1084.3,317.6L1083.0,321.4L1081.4,325.1L1079.5,328.5L1077.3,331.7L1074.8,334.6L1072.1,337.2L1069.1,339.5L1066.0,341.5L1062.7,343.2L1059.2,344.4L1055.6,345.4L1052.0,345.9L1048.2,346.1L1044.5,345.9L1040.7,345.4L1036.9,344.4L1033.2,343.2L1029.5,341.5L1025.9,339.5L1022.5,337.2L1019.1,334.6L1015.9,331.7L1012.9,328.5L1010.1,325.1L1007.5,321.4L1005.1,317.6L1003.0,313.6L1001.1,309.4L999.4,305.1L998.1,300.8L997.0,296.4L996.3,291.9L995.8,287.5L995.7,283.1L995.9,278.9L996.4,274.7L997.2,270.7L998.4,266.8L999.8,263.2L1001.6,259.8L1003.7,256.7L1006.1,253.9L1008.7,251.4L1011.6,249.2L1014.8,247.5L1018.2,246.0L1021.8,245.0L1025.6,244.4L1029.5,244.2L1033.5,244.4L1037.6,245.0L1041.8,246.0L1045.9,247.5L1050.1,249.2L1054.1,251.4L1058.1,253.9L1061.9,256.7L1065.5,259.8L1068.9,263.2L1072.0,266.8L1074.9,270.7L1077.5,274.7L1079.8,278.9L1081.8,283.1L1083.4,287.5L1084.6,291.9Z"/>
<path d="M354.3,537.7L356.4,542.2L358.2,546.6L359.8,551.0L361.1,555.2L362.1,559.4L362.8,563.4L363.1,567.3L363.0,570.9L362.6,574.3L361.8,577.4L360.6,580.2L359.0,582.7L357.1,584.9L354.7,586.6L351.9,588.1L348.8,589.1L345.3,589.7L341.5,589.9L337.3,589.7L333.0,589.1L328.3,588.1L323.6,586.6L318.6,584.9L313.6,582.7L308.6,580.2L303.6,577.4L298.7,574.3L294.0,570.9L289.4,567.3L285.0,563.4L281.0,559.4L277.2,555.2L273.8,551.0L270.7,546.6L268.1,542.2L265.9,537.7L264.1,533.3L262.7,529.0L261.8,524.7L261.3,520.5L261.2,516.5L261.6,512.7L262.4,509.0L263.6,505.6L265.1,502.4L267.0,499.5L269.2,496.9L271.7,494.6L274.5,492.6L277.5,490.9L280.7,489.7L284.1,488.7L287.7,488.2L291.4,488.0L295.2,488.2L299.1,488.7L303.0,489.7L307.0,490.9L310.9,492.6L314.9,494.6L318.8,496.9L322.6,499.5L326.4,502.4L330.1,505.6L333.7,509.0L337.1,512.7L340.4,516.5L343.6,520.5L346.6,524.7L349.3,529.0L351.9,533.3Z"/>
</g>
<g transform="translate(964.3,356.4)">
<path d="M10.00,0.00L14.30,0.00M7.07,7.07L10.11,10.11M0.00,10.00L0.00,14.30M-7.07,7.07L-10.11,10.11M-10.00,0.00L-14.30,0.00M-7.07,-7.07L-10.11,-10.11M-0.00,-10.00L-0.00,-14.30M7.07,-7.07L10.11,-10.11" stroke="#ffd700" stroke-width="5.2" stroke-linecap="round" fill="none"/>
<circle r="12" fill="#ffd700"/>
<circle cx="-1" cy="0" r="9.6" fill="#ffff00"/>
<circle cx="-4.4" cy="-3.3" r="3.0" fill="#ffd700"/><circle cx="1.7" cy="-3.3" r="3.0" fill="#ffd700"/>
<path d="M-8.6,2.4Q-7.4,1.2 -6.2,2.2Q-1,6.6 4.2,2.2Q5.4,1.2 6.6,2.4Q5.2,8.9 -1,8.9Q-7.2,8.9 -8.6,2.4Z" fill="#ffd700"/>
</g>
<circle cx="501.9" cy="567.3" r="13.9" fill="#696969" fill-opacity=".75" stroke="#696969" stroke-opacity=".75" stroke-width="2.8"/>
<circle cx="501.9" cy="567.3" r="6.9" fill="#000" fill-opacity=".75" stroke="#000" stroke-opacity=".75" stroke-width="2.8"/>
<path d="M516.4,766.5H1168.1M344.0,711.5H1340.5M221.7,645.5H1462.8M137.9,573.5H1546.6M88.6,496.5H1595.9M72.2,417.5H1612.2M88.6,338.5H1595.9M137.9,262.5H1546.6M221.7,189.5H1462.8M344.0,124.5H1340.5M516.4,68.5H1168.1M1113.8,765.9L1146.9,755.9L1177.6,745.3L1206.1,734.2L1232.6,722.6L1257.5,710.6L1280.7,698.1L1302.5,685.3L1322.8,672.2L1341.7,658.7L1359.4,645.0L1375.8,631.0L1390.9,616.7L1404.9,602.2L1417.6,587.5L1429.2,572.6L1439.7,557.5L1449.0,542.3L1457.2,526.9L1464.3,511.4L1470.3,495.9L1475.2,480.2L1479.0,464.5L1481.7,448.7L1483.4,432.9L1483.9,417.1L1483.4,401.2L1481.7,385.4L1479.0,369.6L1475.2,353.9L1470.3,338.2L1464.3,322.7L1457.2,307.2L1449.0,291.8L1439.7,276.6L1429.2,261.5L1417.6,246.6L1404.9,231.9L1390.9,217.4L1375.8,203.1L1359.4,189.1L1341.7,175.4L1322.8,161.9L1302.5,148.8L1280.7,136.0L1257.5,123.5L1232.6,111.5L1206.1,99.9L1177.6,88.8L1146.9,78.2L1113.8,68.2M1059.5,765.9L1086.0,755.9L1110.5,745.3L1133.3,734.2L1154.6,722.6L1174.4,710.6L1193.0,698.1L1210.4,685.3L1226.7,672.2L1241.8,658.7L1255.9,645.0L1269.1,631.0L1281.2,616.7L1292.3,602.2L1302.5,587.5L1311.8,572.6L1320.2,557.5L1327.7,542.3L1334.2,526.9L1339.9,511.4L1344.7,495.9L1348.6,480.2L1351.7,464.5L1353.8,448.7L1355.1,432.9L1355.6,417.1L1355.1,401.2L1353.8,385.4L1351.7,369.6L1348.6,353.9L1344.7,338.2L1339.9,322.7L1334.2,307.2L1327.7,291.8L1320.2,276.6L1311.8,261.5L1302.5,246.6L1292.3,231.9L1281.2,217.4L1269.1,203.1L1255.9,189.1L1241.8,175.4L1226.7,161.9L1210.4,148.8L1193.0,136.0L1174.4,123.5L1154.6,111.5L1133.3,99.9L1110.5,88.8L1086.0,78.2L1059.5,68.2M1005.2,765.9L1025.1,755.9L1043.4,745.3L1060.5,734.2L1076.5,722.6L1091.4,710.6L1105.3,698.1L1118.4,685.3L1130.6,672.2L1141.9,658.7L1152.5,645.0L1162.4,631.0L1171.4,616.7L1179.8,602.2L1187.5,587.5L1194.4,572.6L1200.7,557.5L1206.3,542.3L1211.2,526.9L1215.5,511.4L1219.1,495.9L1222.0,480.2L1224.3,464.5L1225.9,448.7L1226.9,432.9L1227.2,417.1L1226.9,401.2L1225.9,385.4L1224.3,369.6L1222.0,353.9L1219.1,338.2L1215.5,322.7L1211.2,307.2L1206.3,291.8L1200.7,276.6L1194.4,261.5L1187.5,246.6L1179.8,231.9L1171.4,217.4L1162.4,203.1L1152.5,189.1L1141.9,175.4L1130.6,161.9L1118.4,148.8L1105.3,136.0L1091.4,123.5L1076.5,111.5L1060.5,99.9L1043.4,88.8L1025.1,78.2L1005.2,68.2M950.9,765.9L964.1,755.9L976.4,745.3L987.8,734.2L998.4,722.6L1008.3,710.6L1017.6,698.1L1026.3,685.3L1034.5,672.2L1042.0,658.7L1049.1,645.0L1055.7,631.0L1061.7,616.7L1067.3,602.2L1072.4,587.5L1077.0,572.6L1081.2,557.5L1085.0,542.3L1088.2,526.9L1091.1,511.4L1093.5,495.9L1095.4,480.2L1097.0,464.5L1098.0,448.7L1098.7,432.9L1098.9,417.1L1098.7,401.2L1098.0,385.4L1097.0,369.6L1095.4,353.9L1093.5,338.2L1091.1,322.7L1088.2,307.2L1085.0,291.8L1081.2,276.6L1077.0,261.5L1072.4,246.6L1067.3,231.9L1061.7,217.4L1055.7,203.1L1049.1,189.1L1042.0,175.4L1034.5,161.9L1026.3,148.8L1017.6,136.0L1008.3,123.5L998.4,111.5L987.8,99.9L976.4,88.8L964.1,78.2L950.9,68.2M896.6,765.9L903.2,755.9L909.3,745.3L915.0,734.2L920.3,722.6L925.3,710.6L929.9,698.1L934.3,685.3L938.4,672.2L942.1,658.7L945.7,645.0L949.0,631.0L952.0,616.7L954.8,602.2L957.3,587.5L959.6,572.6L961.7,557.5L963.6,542.3L965.2,526.9L966.7,511.4L967.9,495.9L968.8,480.2L969.6,464.5L970.1,448.7L970.5,432.9L970.6,417.1L970.5,401.2L970.1,385.4L969.6,369.6L968.8,353.9L967.9,338.2L966.7,322.7L965.2,307.2L963.6,291.8L961.7,276.6L959.6,261.5L957.3,246.6L954.8,231.9L952.0,217.4L949.0,203.1L945.7,189.1L942.1,175.4L938.4,161.9L934.3,148.8L929.9,136.0L925.3,123.5L920.3,111.5L915.0,99.9L909.3,88.8L903.2,78.2L896.6,68.2M842.5,765.9L842.5,755.9L842.5,745.3L842.5,734.2L842.5,722.6L842.5,710.6L842.5,698.1L842.5,685.3L842.5,672.2L842.5,658.7L842.5,645.0L842.5,631.0L842.5,616.7L842.5,602.2L842.5,587.5L842.5,572.6L842.5,557.5L842.5,542.3L842.5,526.9L842.5,511.4L842.5,495.9L842.5,480.2L842.5,464.5L842.5,448.7L842.5,432.9L842.5,417.1L842.5,401.2L842.5,385.4L842.5,369.6L842.5,353.9L842.5,338.2L842.5,322.7L842.5,307.2L842.5,291.8L842.5,276.6L842.5,261.5L842.5,246.6L842.5,231.9L842.5,217.4L842.5,203.1L842.5,189.1L842.5,175.4L842.5,161.9L842.5,148.8L842.5,136.0L842.5,123.5L842.5,111.5L842.5,99.9L842.5,88.8L842.5,78.2L842.5,68.2M787.9,765.9L781.3,755.9L775.2,745.3L769.5,734.2L764.2,722.6L759.2,710.6L754.6,698.1L750.2,685.3L746.1,672.2L742.4,658.7L738.8,645.0L735.5,631.0L732.5,616.7L729.7,602.2L727.2,587.5L724.9,572.6L722.8,557.5L720.9,542.3L719.3,526.9L717.8,511.4L716.6,495.9L715.7,480.2L714.9,464.5L714.4,448.7L714.0,432.9L713.9,417.1L714.0,401.2L714.4,385.4L714.9,369.6L715.7,353.9L716.6,338.2L717.8,322.7L719.3,307.2L720.9,291.8L722.8,276.6L724.9,261.5L727.2,246.6L729.7,231.9L732.5,217.4L735.5,203.1L738.8,189.1L742.4,175.4L746.1,161.9L750.2,148.8L754.6,136.0L759.2,123.5L764.2,111.5L769.5,99.9L775.2,88.8L781.3,78.2L787.9,68.2M733.6,765.9L720.4,755.9L708.1,745.3L696.7,734.2L686.1,722.6L676.2,710.6L666.9,698.1L658.2,685.3L650.0,672.2L642.5,658.7L635.4,645.0L628.8,631.0L622.8,616.7L617.2,602.2L612.1,587.5L607.5,572.6L603.3,557.5L599.5,542.3L596.3,526.9L593.4,511.4L591.0,495.9L589.1,480.2L587.5,464.5L586.5,448.7L585.8,432.9L585.6,417.1L585.8,401.2L586.5,385.4L587.5,369.6L589.1,353.9L591.0,338.2L593.4,322.7L596.3,307.2L599.5,291.8L603.3,276.6L607.5,261.5L612.1,246.6L617.2,231.9L622.8,217.4L628.8,203.1L635.4,189.1L642.5,175.4L650.0,161.9L658.2,148.8L666.9,136.0L676.2,123.5L686.1,111.5L696.7,99.9L708.1,88.8L720.4,78.2L733.6,68.2M679.3,765.9L659.4,755.9L641.1,745.3L624.0,734.2L608.0,722.6L593.1,710.6L579.2,698.1L566.1,685.3L553.9,672.2L542.6,658.7L532.0,645.0L522.1,631.0L513.1,616.7L504.7,602.2L497.0,587.5L490.1,572.6L483.8,557.5L478.2,542.3L473.3,526.9L469.0,511.4L465.4,495.9L462.5,480.2L460.2,464.5L458.6,448.7L457.6,432.9L457.2,417.1L457.6,401.2L458.6,385.4L460.2,369.6L462.5,353.9L465.4,338.2L469.0,322.7L473.3,307.2L478.2,291.8L483.8,276.6L490.1,261.5L497.0,246.6L504.7,231.9L513.1,217.4L522.1,203.1L532.0,189.1L542.6,175.4L553.9,161.9L566.1,148.8L579.2,136.0L593.1,123.5L608.0,111.5L624.0,99.9L641.1,88.8L659.4,78.2L679.3,68.2M625.0,765.9L598.5,755.9L574.0,745.3L551.2,734.2L529.9,722.6L510.1,710.6L491.5,698.1L474.1,685.3L457.8,672.2L442.7,658.7L428.6,645.0L415.4,631.0L403.3,616.7L392.2,602.2L382.0,587.5L372.7,572.6L364.3,557.5L356.8,542.3L350.3,526.9L344.6,511.4L339.8,495.9L335.9,480.2L332.8,464.5L330.7,448.7L329.4,432.9L328.9,417.1L329.4,401.2L330.7,385.4L332.8,369.6L335.9,353.9L339.8,338.2L344.6,322.7L350.3,307.2L356.8,291.8L364.3,276.6L372.7,261.5L382.0,246.6L392.2,231.9L403.3,217.4L415.4,203.1L428.6,189.1L442.7,175.4L457.8,161.9L474.1,148.8L491.5,136.0L510.1,123.5L529.9,111.5L551.2,99.9L574.0,88.8L598.5,78.2L625.0,68.2M570.7,765.9L537.6,755.9L506.9,745.3L478.4,734.2L451.9,722.6L427.0,710.6L403.8,698.1L382.0,685.3L361.7,672.2L342.8,658.7L325.1,645.0L308.7,631.0L293.6,616.7L279.6,602.2L266.9,587.5L255.3,572.6L244.8,557.5L235.5,542.3L227.3,526.9L220.2,511.4L214.2,495.9L209.3,480.2L205.5,464.5L202.8,448.7L201.1,432.9L200.6,417.1L201.1,401.2L202.8,385.4L205.5,369.6L209.3,353.9L214.2,338.2L220.2,322.7L227.3,307.2L235.5,291.8L244.8,276.6L255.3,261.5L266.9,246.6L279.6,231.9L293.6,217.4L308.7,203.1L325.1,189.1L342.8,175.4L361.7,161.9L382.0,148.8L403.8,136.0L427.0,123.5L451.9,111.5L478.4,99.9L506.9,88.8L537.6,78.2L570.7,68.2" fill="none" stroke="#b0b0b0" stroke-width="1.35"/>
<path d="M501.9,567.3L497.9,563.0L493.9,558.6L489.9,554.3L486.1,549.9L482.3,545.5L478.5,541.1L474.9,536.7L471.2,532.2L467.7,527.8L464.2,523.3L460.8,518.8L457.4,514.2L454.2,509.7L450.9,505.1L447.8,500.6L444.7,496.0L441.6,491.4L438.7,486.8L435.8,482.2L433.0,477.5L430.2,472.9L427.5,468.2L424.9,463.6L422.3,458.9L419.8,454.2L417.3,449.6L415.0,444.9L412.7,440.2L410.4,435.5L408.2,430.8L406.1,426.1L404.1,421.4L402.1,416.7L400.2,412.0L398.3,407.3L396.6,402.6L394.8,398.0L393.2,393.3L391.6,388.6L390.1,383.9L388.6,379.2L387.2,374.5L385.9,369.9L384.6,365.2L383.4,360.6L382.3,355.9L381.2,351.3L380.2,346.7L379.3,342.1L378.4,337.5L377.6,332.9L376.8,328.3L376.1,323.8L375.5,319.2L374.9,314.7L374.4,310.2L373.9,305.7L373.5,301.3L373.1,296.8L372.9,292.4L372.6,288.0L372.5,283.6L372.3,279.2L372.3,274.9L372.3,270.6L372.3,266.3L372.4,262.0L372.5,257.8L372.7,253.6L373.0,249.4L373.3,245.2L373.6,241.1L374.0,237.0L374.4,233.0L374.8,229.0L375.3,225.0L375.8,221.0L376.4,217.1L377.0,213.3L377.6,209.5L378.2,205.7L378.9,202.0L379.6,198.3L380.3,194.6L381.0,191.0L381.7,187.5L382.4,184.0L383.2,180.6L383.9,177.2L384.6,173.9L385.3,170.6L385.9,167.4L386.5,164.3L387.1,161.2L387.7,158.2L388.2,155.2L388.6,152.4L389.0,149.6L389.3,146.9L389.5,144.2L389.6,141.7L389.5,139.2L389.4,136.8L389.1,134.6L388.7,132.4L388.1,130.3L387.3,128.3L386.4,126.4L385.2,124.6L383.8,122.9L382.1,121.3L380.2,119.8L378.1,118.5L375.6,117.3L372.8,116.2L369.8,115.2L366.4,114.4M1318.1,114.4L1318.0,114.4L1310.6,113.6L1303.5,113.0L1296.6,112.6L1290.1,112.3L1284.0,112.1L1278.1,112.0L1272.5,112.1L1267.3,112.3L1262.4,112.6L1257.9,113.1L1253.6,113.7L1249.6,114.5L1246.0,115.3L1242.6,116.3L1239.4,117.4L1236.6,118.7L1234.0,120.0L1231.6,121.5L1229.5,123.1L1227.5,124.8L1225.8,126.6L1224.2,128.5L1222.8,130.5L1221.6,132.6L1220.5,134.9L1219.5,137.2L1218.7,139.6L1217.9,142.0L1217.3,144.6L1216.8,147.2L1216.3,150.0L1215.9,152.8L1215.6,155.6L1215.3,158.6L1215.1,161.6L1214.9,164.7L1214.8,167.8L1214.7,171.0L1214.6,174.3L1214.6,177.6L1214.5,181.0L1214.5,184.5L1214.5,188.0L1214.4,191.5L1214.4,195.1L1214.4,198.8L1214.3,202.5L1214.3,206.2L1214.2,210.0L1214.2,213.8L1214.1,217.7L1213.9,221.6L1213.8,225.5L1213.7,229.5L1213.5,233.5L1213.3,237.6L1213.0,241.7L1212.7,245.8L1212.4,249.9L1212.1,254.1L1211.7,258.3L1211.3,262.6L1210.9,266.8L1210.4,271.1L1209.9,275.5L1209.4,279.8L1208.8,284.2L1208.1,288.6L1207.5,293.0L1206.7,297.4L1206.0,301.9L1205.2,306.3L1204.3,310.8L1203.4,315.3L1202.5,319.9L1201.5,324.4L1200.5,329.0L1199.4,333.5L1198.3,338.1L1197.2,342.7L1196.0,347.3L1194.7,351.9L1193.4,356.6L1192.0,361.2L1190.7,365.9L1189.2,370.5L1187.7,375.2L1186.2,379.9L1184.6,384.5L1182.9,389.2L1181.3,393.9L1179.5,398.6L1177.7,403.3L1175.9,408.0L1174.0,412.7L1172.1,417.4L1170.1,422.1L1168.1,426.8L1166.0,431.5L1163.9,436.1L1161.7,440.8L1159.5,445.5L1157.2,450.2L1154.9,454.9L1152.5,459.6L1150.1,464.2L1147.6,468.9L1145.1,473.5L1142.5,478.2L1139.9,482.8L1137.2,487.4L1134.5,492.0L1131.8,496.6L1128.9,501.2L1126.1,505.8L1123.2,510.3L1120.2,514.9L1117.2,519.4L1114.1,523.9L1111.0,528.4L1107.8,532.8L1104.6,537.3L1101.4,541.7L1098.1,546.1L1094.7,550.5L1091.3,554.9L1087.8,559.2L1084.3,563.5L1080.8,567.8L1077.2,572.1L1073.5,576.3L1069.9,580.5L1066.1,584.7L1062.3,588.9L1058.5,593.0L1054.6,597.1L1050.7,601.1L1046.7,605.1L1042.7,609.1L1038.6,613.1L1034.5,617.0L1030.3,620.8L1026.1,624.6L1021.8,628.4L1017.5,632.1L1013.2,635.8L1008.8,639.5L1004.4,643.1L999.9,646.6L995.4,650.1L990.8,653.5L986.2,656.9L981.5,660.2L976.8,663.5L972.1,666.7L967.3,669.8L962.5,672.9L957.6,675.9L952.7,678.9L947.8,681.7L942.8,684.5L937.8,687.2L932.8,689.9L927.7,692.4L922.6,694.9L917.5,697.3L912.3,699.5L907.1,701.7L901.8,703.8L896.5,705.8L891.2,707.7L885.9,709.5L880.5,711.2L875.1,712.8L869.7,714.3L864.3,715.6L858.8,716.8L853.3,717.9L847.7,718.9L842.2,719.7L836.6,720.5L831.0,721.1L825.4,721.5L819.7,721.8L814.0,722.0L808.3,722.1L802.6,722.0L796.8,721.8L791.0,721.5L785.2,721.0L779.4,720.4L773.5,719.6L767.7,718.8L761.8,717.8L755.9,716.7L750.0,715.4L744.0,714.1L738.1,712.6L732.2,711.0L726.3,709.3L720.3,707.5L714.4,705.6L708.5,703.6L702.6,701.5L696.7,699.2L690.8,696.9L684.9,694.5L679.1,692.1L673.3,689.5L667.5,686.9L661.7,684.1L656.0,681.3L650.3,678.5L644.6,675.5L639.0,672.5L633.4,669.4L627.9,666.3L622.4,663.1L616.9,659.8L611.5,656.5L606.2,653.1L600.9,649.6L595.6,646.1L590.4,642.6L585.2,639.0L580.1,635.3L575.0,631.6L570.0,627.9L565.1,624.1L560.2,620.3L555.4,616.4L550.6,612.5L545.8,608.6L541.2,604.6L536.6,600.6L532.0,596.5L527.6,592.4L523.1,588.3L518.8,584.2L514.5,580.0L510.2,575.8L506.0,571.5L501.9,567.3" fill="none" stroke="#696969" stroke-opacity=".5" stroke-width="8.3" stroke-linecap="butt" stroke-linejoin="round"/>
<path d="M501.9,567.3L497.9,563.0L493.9,558.6L489.9,554.3L486.1,549.9L482.3,545.5L478.5,541.1L474.9,536.7L471.2,532.2L467.7,527.8L464.2,523.3L460.8,518.8L457.4,514.2L454.2,509.7L450.9,505.1L447.8,500.6L444.7,496.0L441.6,491.4L438.7,486.8L435.8,482.2L433.0,477.5L430.2,472.9L427.5,468.2L424.9,463.6L422.3,458.9L419.8,454.2L417.3,449.6L415.0,444.9L412.7,440.2L410.4,435.5L408.2,430.8L406.1,426.1L404.1,421.4L402.1,416.7L400.2,412.0L398.3,407.3L396.6,402.6L394.8,398.0L393.2,393.3L391.6,388.6L390.1,383.9L388.6,379.2L387.2,374.5L385.9,369.9L384.6,365.2L383.4,360.6L382.3,355.9L381.2,351.3L380.2,346.7L379.3,342.1L378.4,337.5L377.6,332.9L376.8,328.3L376.1,323.8L375.5,319.2L374.9,314.7L374.4,310.2L373.9,305.7L373.5,301.3L373.1,296.8L372.9,292.4L372.6,288.0L372.5,283.6L372.3,279.2L372.3,274.9L372.3,270.6L372.3,266.3L372.4,262.0L372.5,257.8L372.7,253.6L373.0,249.4L373.3,245.2L373.6,241.1L374.0,237.0L374.4,233.0L374.8,229.0L375.3,225.0L375.8,221.0L376.4,217.1L377.0,213.3L377.6,209.5L378.2,205.7L378.9,202.0L379.6,198.3L380.3,194.6L381.0,191.0L381.7,187.5L382.4,184.0L383.2,180.6L383.9,177.2L384.6,173.9L385.3,170.6L385.9,167.4L386.5,164.3L387.1,161.2L387.7,158.2L388.2,155.2L388.6,152.4L389.0,149.6L389.3,146.9L389.5,144.2L389.6,141.7L389.5,139.2L389.4,136.8L389.1,134.6L388.7,132.4L388.1,130.3L387.3,128.3L386.4,126.4L385.2,124.6L383.8,122.9L382.1,121.3L380.2,119.8L378.1,118.5L375.6,117.3L372.8,116.2L369.8,115.2L366.4,114.4M1318.1,114.4L1318.0,114.4L1310.6,113.6L1303.5,113.0L1296.6,112.6L1290.1,112.3L1284.0,112.1L1278.1,112.0L1272.5,112.1L1267.3,112.3L1262.4,112.6L1257.9,113.1L1253.6,113.7L1249.6,114.5L1246.0,115.3L1242.6,116.3L1239.4,117.4L1236.6,118.7L1234.0,120.0L1231.6,121.5L1229.5,123.1L1227.5,124.8L1225.8,126.6L1224.2,128.5L1222.8,130.5L1221.6,132.6L1220.5,134.9L1219.5,137.2L1218.7,139.6L1217.9,142.0L1217.3,144.6L1216.8,147.2L1216.3,150.0L1215.9,152.8L1215.6,155.6L1215.3,158.6L1215.1,161.6L1214.9,164.7L1214.8,167.8L1214.7,171.0L1214.6,174.3L1214.6,177.6L1214.5,181.0L1214.5,184.5L1214.5,188.0L1214.4,191.5L1214.4,195.1L1214.4,198.8L1214.3,202.5L1214.3,206.2L1214.2,210.0L1214.2,213.8L1214.1,217.7L1213.9,221.6L1213.8,225.5L1213.7,229.5L1213.5,233.5L1213.3,237.6L1213.0,241.7L1212.7,245.8L1212.4,249.9L1212.1,254.1L1211.7,258.3L1211.3,262.6L1210.9,266.8L1210.4,271.1L1209.9,275.5L1209.4,279.8L1208.8,284.2L1208.1,288.6L1207.5,293.0L1206.7,297.4L1206.0,301.9L1205.2,306.3L1204.3,310.8L1203.4,315.3L1202.5,319.9L1201.5,324.4L1200.5,329.0L1199.4,333.5L1198.3,338.1L1197.2,342.7L1196.0,347.3L1194.7,351.9L1193.4,356.6L1192.0,361.2L1190.7,365.9L1189.2,370.5L1187.7,375.2L1186.2,379.9L1184.6,384.5L1182.9,389.2L1181.3,393.9L1179.5,398.6L1177.7,403.3L1175.9,408.0L1174.0,412.7L1172.1,417.4L1170.1,422.1L1168.1,426.8L1166.0,431.5L1163.9,436.1L1161.7,440.8L1159.5,445.5L1157.2,450.2L1154.9,454.9L1152.5,459.6L1150.1,464.2L1147.6,468.9L1145.1,473.5L1142.5,478.2L1139.9,482.8L1137.2,487.4L1134.5,492.0L1131.8,496.6L1128.9,501.2L1126.1,505.8L1123.2,510.3L1120.2,514.9L1117.2,519.4L1114.1,523.9L1111.0,528.4L1107.8,532.8L1104.6,537.3L1101.4,541.7L1098.1,546.1L1094.7,550.5L1091.3,554.9L1087.8,559.2L1084.3,563.5L1080.8,567.8L1077.2,572.1L1073.5,576.3L1069.9,580.5L1066.1,584.7L1062.3,588.9L1058.5,593.0L1054.6,597.1L1050.7,601.1L1046.7,605.1L1042.7,609.1L1038.6,613.1L1034.5,617.0L1030.3,620.8L1026.1,624.6L1021.8,628.4L1017.5,632.1L1013.2,635.8L1008.8,639.5L1004.4,643.1L999.9,646.6L995.4,650.1L990.8,653.5L986.2,656.9L981.5,660.2L976.8,663.5L972.1,666.7L967.3,669.8L962.5,672.9L957.6,675.9L952.7,678.9L947.8,681.7L942.8,684.5L937.8,687.2L932.8,689.9L927.7,692.4L922.6,694.9L917.5,697.3L912.3,699.5L907.1,701.7L901.8,703.8L896.5,705.8L891.2,707.7L885.9,709.5L880.5,711.2L875.1,712.8L869.7,714.3L864.3,715.6L858.8,716.8L853.3,717.9L847.7,718.9L842.2,719.7L836.6,720.5L831.0,721.1L825.4,721.5L819.7,721.8L814.0,722.0L808.3,722.1L802.6,722.0L796.8,721.8L791.0,721.5L785.2,721.0L779.4,720.4L773.5,719.6L767.7,718.8L761.8,717.8L755.9,716.7L750.0,715.4L744.0,714.1L738.1,712.6L732.2,711.0L726.3,709.3L720.3,707.5L714.4,705.6L708.5,703.6L702.6,701.5L696.7,699.2L690.8,696.9L684.9,694.5L679.1,692.1L673.3,689.5L667.5,686.9L661.7,684.1L656.0,681.3L650.3,678.5L644.6,675.5L639.0,672.5L633.4,669.4L627.9,666.3L622.4,663.1L616.9,659.8L611.5,656.5L606.2,653.1L600.9,649.6L595.6,646.1L590.4,642.6L585.2,639.0L580.1,635.3L575.0,631.6L570.0,627.9L565.1,624.1L560.2,620.3L555.4,616.4L550.6,612.5L545.8,608.6L541.2,604.6L536.6,600.6L532.0,596.5L527.6,592.4L523.1,588.3L518.8,584.2L514.5,580.0L510.2,575.8L506.0,571.5L501.9,567.3" fill="none" stroke="#000" stroke-opacity=".5" stroke-width="2.8" stroke-linecap="butt" stroke-linejoin="round"/>
<g fill="none" stroke="#000" stroke-opacity=".72" stroke-width="5.5" stroke-linejoin="round">
<path d="M779.5,437.6L781.8,436.7L784.0,435.5L786.4,434.8L788.9,434.2L791.2,433.4L793.6,432.6L796.0,431.9L798.4,431.1L800.8,430.5L803.3,429.9L805.7,429.2L808.0,428.4L810.4,427.7L812.9,427.0L815.2,426.1L817.6,425.3L820.0,424.8L822.4,424.2L824.7,422.9L827.0,421.8L829.5,421.5L832.2,421.8L834.8,422.0L837.3,421.6L839.7,420.9L842.0,420.1L844.5,419.4L846.9,418.7L849.3,418.1L851.7,417.4L854.2,416.9L856.7,416.6L859.2,416.4L861.7,416.3L864.2,415.9L866.6,415.5L869.1,415.2L871.6,415.0L874.1,414.6L876.6,414.3L879.0,413.9L881.5,413.5L884.0,413.3L886.5,413.3L889.1,413.4L891.6,413.6L894.1,413.8L896.6,414.0L899.1,413.9L901.6,414.0L904.1,414.2L906.6,414.4L909.0,414.9L911.5,415.4L913.9,415.9L916.4,416.5L918.9,416.6L921.4,416.5L923.9,416.7L926.4,417.2L928.8,417.9L931.2,418.6L933.7,419.1L936.1,419.7L938.5,420.5L940.8,421.3L943.3,421.9L945.6,422.7L947.9,423.9L950.1,425.0L952.4,426.1L954.6,427.2L956.8,428.5L958.9,429.8L961.2,430.9L963.6,431.7L965.9,432.7L968.1,433.9L970.0,435.6L971.7,437.4L973.8,438.8L976.2,439.8L978.4,441.1L980.4,442.6L982.4,444.1L984.0,446.1L985.7,448.0L987.5,449.7L989.3,451.4L990.8,453.5L992.4,455.5L994.1,457.3L995.6,459.2L996.9,461.4L998.3,463.5L999.8,465.4L1001.3,467.5L1002.7,469.5L1004.3,471.5L1005.7,473.6L1007.0,475.8L1007.9,478.2L1008.6,480.6L1009.5,483.0L1010.5,485.3L1011.2,487.7L1011.9,490.1L1012.7,492.4L1013.6,494.8L1014.3,497.2L1014.6,499.7L1015.0,502.1L1015.9,504.5L1016.7,506.9L1017.1,509.4L1017.3,511.9L1017.5,514.4L1017.9,516.9L1018.3,519.4L1018.4,521.9L1017.9,524.4L1017.0,526.9L1016.3,529.3L1016.2,531.8L1016.2,534.3L1016.0,536.8L1015.6,539.2L1015.1,541.7L1014.8,544.1L1014.7,546.7L1014.4,549.2L1013.7,551.6L1012.8,554.0L1012.0,556.4L1010.8,558.6L1009.5,560.8L1008.2,562.9L1007.0,565.1L1006.1,567.5L1005.6,570.0L1004.8,572.4L1003.6,574.6L1002.1,576.6L1000.5,578.6L999.2,580.7L998.1,583.0L996.7,585.1L995.0,586.9L993.3,588.8L991.8,590.7L990.2,592.7L988.6,594.6L987.2,596.7L985.8,598.8L984.2,600.7L982.5,602.6L980.7,604.3L979.1,606.2L977.5,608.2L975.5,609.7L973.5,611.2L971.6,612.9L970.0,614.8L968.4,616.9L966.6,618.6L964.4,619.9L962.3,621.3L960.3,622.7L958.3,624.3L956.3,625.8L953.9,626.8L951.6,627.9L949.6,629.4L947.7,631.0L945.5,632.2L943.2,633.3L941.0,634.3L938.8,635.6L936.8,637.2L934.8,638.7L932.4,639.6L929.9,640.2L927.4,640.8L925.1,641.6L922.9,642.9L920.8,644.2L918.5,645.3L916.1,646.1L913.7,646.8L911.4,647.7L909.1,648.7L906.8,649.7L904.3,650.2L901.8,650.6L899.3,650.9L896.9,651.5L894.5,652.3L892.1,652.9L889.6,653.4L887.2,653.8L884.7,654.3L882.3,655.0L879.8,655.6L877.4,656.2L874.9,656.5L872.3,656.4L869.8,656.6L867.4,657.2L864.9,657.5L862.4,657.2L859.8,656.8L857.3,657.0L854.8,657.4L852.3,657.6L849.8,657.7L847.3,657.5L844.8,657.0L842.3,656.7L839.8,656.6L837.3,656.7L834.8,656.6L832.3,656.6L829.8,656.7L827.3,656.4L824.8,656.0L822.3,655.8L819.9,655.4L817.4,655.0L814.9,654.7L812.4,654.4L810.0,653.8L807.6,653.2L805.1,652.7L802.6,652.2L800.2,651.8L797.7,651.5L795.2,651.1L792.8,650.4L790.4,649.8L787.9,649.3L785.4,648.8L782.9,648.3L780.5,647.8L778.2,646.8L775.9,645.7L773.6,644.7L771.2,643.8L769.0,642.6L766.7,641.7L764.2,641.3L761.7,640.8L759.3,640.0L757.0,639.0L754.7,637.9L752.3,637.1L749.9,636.5L747.5,635.9L745.1,635.2L742.7,634.4L740.3,633.4L737.9,632.8L735.4,632.6L732.9,632.5L730.4,632.1L728.0,631.5L725.5,630.9L723.1,630.4L720.6,630.1L718.1,630.0L715.6,629.8L713.1,629.7L710.6,629.7L708.1,629.9L705.6,629.6L703.1,629.2L700.6,629.0L698.1,628.9L695.6,628.9L693.1,629.0L690.6,629.2L688.1,629.0L685.6,628.6L683.1,628.2L680.6,628.0L678.1,628.1L675.6,628.3L673.0,628.4L670.5,628.7L668.0,629.1L665.5,628.9L663.0,628.3L660.6,627.7L658.1,627.2L655.6,626.8L653.1,626.6L650.6,626.5L648.1,626.2L645.7,625.7L643.2,625.1L640.8,624.6L638.3,624.3L635.8,624.2L633.3,624.0L630.9,623.3L628.5,622.4L626.1,621.5L623.7,621.1L621.2,620.8L618.7,620.1L616.4,619.2L614.0,618.5L611.6,617.8L609.2,617.1L606.8,616.3L604.5,615.5L602.0,615.0L599.5,614.4L597.2,613.7L594.9,612.5L592.7,611.4L590.3,610.5L587.9,609.8L585.6,608.9L583.2,608.0L580.9,607.1L578.6,606.2L576.4,604.9L574.2,603.7L571.8,602.8L569.5,601.9L567.3,600.6L565.3,599.1L563.2,597.7L561.2,596.2L559.1,594.8L557.0,593.4L555.0,592.0L552.8,590.8L550.5,589.7L548.5,588.2L546.6,586.6L544.6,585.1L542.6,583.5L540.7,581.9L538.9,580.2L537.2,578.4L535.4,576.6L533.5,575.0L531.5,573.5L529.6,571.8L528.0,569.9L526.3,568.0L524.6,566.1L523.2,564.0L522.4,561.5L521.6,559.1L520.4,556.9L518.9,554.9L517.5,552.8L516.4,550.6L515.4,548.3L514.4,546.0L513.3,543.8L512.3,541.4L511.9,538.9L511.7,536.4L511.6,533.9L511.8,531.4L512.1,528.9L512.0,526.4L511.7,523.9L511.9,521.4L512.4,518.9L513.4,516.6L514.4,514.3L515.2,511.9L515.9,509.4L517.0,507.2L518.4,505.1L519.8,503.0L521.2,500.9L522.5,498.8L524.1,496.8L525.8,495.0L527.4,493.0L529.1,491.2L530.8,489.4L532.7,487.8L534.5,486.1L536.4,484.4L538.4,482.9L540.4,481.5L542.5,480.1L544.6,478.7L546.6,477.2L548.5,475.5L550.6,474.1L552.9,473.0L555.2,472.1L557.5,471.0L559.7,469.9L562.0,468.9L564.3,467.9L566.6,466.9L569.1,466.3L571.5,465.7L573.8,464.5L576.0,463.3L578.3,462.4L580.7,461.6L583.0,460.6L585.4,459.8L588.0,459.6L590.4,459.2L592.9,458.6L595.4,458.2L597.8,457.5L600.2,456.7L602.6,456.3L605.1,455.9L607.6,455.5L610.0,455.1L612.5,454.7L615.0,454.2L617.4,453.5L619.9,453.1L622.4,453.0L624.9,452.8L627.4,452.5L629.9,452.3L632.4,452.4L634.9,452.6L637.4,452.8L639.9,453.0L642.4,453.1L644.9,452.7L647.4,452.2L649.9,452.1L652.4,452.2L654.9,452.5L657.4,453.0L659.8,453.5L662.3,453.7L664.9,453.8L667.4,454.0L669.8,454.5L672.3,455.0L674.7,455.4L677.2,455.6L679.7,456.0L682.1,456.7L684.6,457.3L687.0,457.8L689.5,458.1L692.1,458.3L694.6,458.2L697.1,458.0L699.6,457.6L702.0,457.3L704.5,457.2L707.1,457.3L709.6,457.1L712.0,456.4L714.4,455.8L716.9,455.5L719.4,454.9L721.8,454.3L724.3,454.1L726.8,453.8L729.3,453.4L731.8,453.0L734.2,452.3L736.5,451.3L738.8,450.2L741.1,449.2L743.5,448.6L746.0,448.1L748.5,447.6L750.9,446.8L753.2,446.0L755.6,445.1L757.9,444.1L760.3,443.4L762.6,442.6L765.0,441.8L767.5,441.3L770.0,440.8L772.4,440.2L774.7,439.2L777.0,438.3Z"/>
<path d="M797.4,460.3L799.7,459.1L802.0,457.8L804.3,456.9L806.8,456.5L809.3,456.1L811.8,455.7L814.2,455.2L816.7,454.6L819.0,453.8L821.5,453.2L824.0,452.9L826.5,452.7L828.9,452.2L831.3,451.4L833.8,451.1L836.4,451.2L838.9,451.1L841.3,450.5L843.8,450.0L846.3,449.8L848.8,449.7L851.3,449.7L853.8,449.6L856.3,449.3L858.8,448.9L861.3,448.5L863.7,448.2L866.2,447.9L868.7,447.8L871.3,447.7L873.8,447.7L876.3,447.8L878.8,447.9L881.3,448.1L883.8,448.3L886.3,448.6L888.8,448.8L891.3,448.8L893.8,449.0L896.3,449.2L898.8,449.3L901.2,449.9L903.6,450.6L906.1,451.2L908.5,451.6L911.0,452.2L913.4,452.7L915.9,453.3L918.3,454.2L920.4,455.7L922.5,457.0L924.7,458.2L927.0,459.2L929.3,460.3L931.4,461.5L933.6,462.7L935.8,463.9L937.9,465.2L940.0,466.7L941.9,468.3L943.7,470.0L945.5,471.8L947.1,473.7L948.7,475.6L950.5,477.4L952.2,479.3L953.6,481.3L955.1,483.3L956.4,485.4L957.4,487.8L958.3,490.1L959.2,492.4L960.0,494.8L960.7,497.2L961.4,499.5L962.4,501.8L963.4,504.2L964.2,506.6L964.5,509.1L964.6,511.6L964.5,514.2L964.2,516.7L964.0,519.2L964.4,521.7L964.5,524.2L964.1,526.7L963.7,529.2L963.5,531.7L963.1,534.2L962.5,536.6L961.7,539.0L961.0,541.4L960.4,543.8L959.6,546.2L958.6,548.5L957.7,550.8L956.8,553.1L955.6,555.3L954.3,557.5L953.3,559.8L952.4,562.2L951.4,564.5L950.0,566.6L948.3,568.4L946.7,570.4L945.0,572.3L943.2,574.0L941.5,575.8L940.2,577.9L938.9,580.2L937.8,582.5L936.2,584.4L934.1,585.9L932.0,587.4L930.1,589.0L928.2,590.6L926.3,592.3L924.5,593.9L922.7,595.7L920.8,597.4L918.6,598.7L916.4,599.8L914.3,601.2L912.3,602.8L910.3,604.3L908.1,605.5L905.8,606.5L903.5,607.5L901.4,608.8L899.2,610.1L897.0,611.2L894.7,612.3L892.5,613.4L890.1,614.2L887.7,614.8L885.3,615.7L883.1,616.9L880.8,618.0L878.5,618.9L876.1,619.6L873.6,620.0L871.1,620.5L868.8,621.4L866.4,622.2L863.9,622.6L861.4,622.8L858.9,623.1L856.4,623.5L853.9,623.7L851.5,624.0L849.0,624.6L846.5,625.1L844.0,625.3L841.5,625.3L839.0,625.0L836.5,624.9L834.0,625.1L831.5,625.5L829.0,625.5L826.5,625.3L824.0,625.0L821.5,624.7L819.0,624.4L816.5,623.7L814.1,623.0L811.6,622.5L809.1,622.4L806.6,622.4L804.1,622.2L801.6,621.9L799.2,621.6L796.7,621.3L794.2,621.0L791.7,620.4L789.3,619.6L786.9,619.0L784.4,618.7L781.9,618.3L779.5,617.7L777.1,616.9L774.8,615.9L772.4,615.2L769.9,614.6L767.4,614.2L765.0,613.8L762.6,613.0L760.4,611.7L758.1,610.7L755.6,610.1L753.2,609.5L750.7,608.8L748.3,608.2L745.9,607.4L743.7,606.2L741.5,605.1L739.2,604.0L736.9,603.0L734.5,602.2L732.1,601.3L729.8,600.4L727.3,600.0L724.7,600.0L722.2,599.6L719.8,599.1L717.3,599.1L714.8,599.2L712.3,599.1L709.8,598.9L707.3,598.4L704.8,597.7L702.3,597.2L699.8,597.2L697.3,597.8L694.8,598.3L692.3,598.3L689.8,598.1L687.3,598.1L684.8,598.3L682.3,598.6L679.8,598.8L677.3,598.9L674.8,598.7L672.3,598.2L669.8,597.8L667.3,597.9L664.8,598.1L662.3,597.9L659.8,597.4L657.3,597.1L654.8,597.0L652.3,596.7L649.9,596.2L647.4,595.8L644.9,595.6L642.4,595.2L640.0,594.5L637.6,593.7L635.3,592.7L632.9,591.8L630.6,590.9L628.2,590.2L625.7,589.8L623.2,589.3L620.8,588.7L618.4,587.8L616.2,586.7L613.9,585.5L611.7,584.4L609.4,583.3L607.2,582.1L605.0,581.0L602.9,579.5L600.9,578.0L598.8,576.8L596.4,575.9L594.2,574.7L592.1,573.3L590.3,571.6L588.5,569.7L586.8,567.9L585.0,566.2L583.1,564.6L581.1,563.1L579.3,561.4L577.9,559.3L576.7,557.1L575.5,554.9L574.6,552.6L573.9,550.3L573.2,547.9L572.3,545.6L571.5,543.1L571.5,540.6L571.9,538.1L572.1,535.6L572.2,533.1L572.6,530.6L573.2,528.1L573.9,525.7L575.1,523.4L576.2,521.2L577.6,519.1L579.1,517.1L580.6,515.0L582.1,513.1L583.7,511.2L585.4,509.4L587.3,507.8L589.3,506.3L591.3,504.8L593.2,503.2L595.2,501.7L597.3,500.3L599.4,498.9L601.4,497.4L603.7,496.3L606.1,495.6L608.5,494.6L610.8,493.8L613.3,493.2L615.7,492.6L618.1,491.9L620.5,491.1L622.9,490.4L625.4,490.1L627.9,489.7L630.4,489.5L632.9,489.3L635.4,489.0L637.8,488.4L640.3,487.8L642.7,487.3L645.2,486.8L647.7,486.6L650.2,486.6L652.8,486.7L655.3,486.9L657.8,487.4L660.3,487.7L662.8,487.5L665.3,487.1L667.8,487.0L670.3,487.3L672.8,487.8L675.3,488.3L677.7,488.6L680.2,488.9L682.7,489.0L685.3,488.8L687.8,488.6L690.3,489.0L692.8,489.6L695.2,490.2L697.6,490.8L700.1,491.3L702.6,491.5L705.2,491.5L707.7,491.3L710.2,490.9L712.6,490.3L715.0,489.6L717.5,489.1L720.0,488.7L722.4,488.0L724.6,486.9L727.0,486.0L729.4,485.3L731.7,484.4L734.1,483.6L736.5,482.9L738.9,482.2L741.2,481.3L743.4,480.0L745.6,478.7L747.9,477.8L750.3,476.9L752.5,475.8L754.9,474.9L757.3,474.3L759.7,473.6L762.0,472.5L764.3,471.5L766.7,470.7L769.0,469.7L771.2,468.7L773.5,467.6L775.8,466.6L778.2,465.7L780.6,465.0L783.0,464.2L785.2,463.0L787.5,462.0L790.0,461.7L792.6,461.5L795.1,461.0Z"/>
<path d="M791.1,489.9L793.5,489.1L795.9,488.3L798.3,487.5L800.7,486.9L803.1,486.3L805.6,485.8L808.1,485.4L810.6,485.2L813.1,485.1L815.6,484.5L818.0,484.0L820.5,483.5L823.0,483.1L825.5,482.8L828.0,482.6L830.5,482.2L832.9,481.7L835.4,481.6L838.0,481.8L840.5,481.9L843.0,481.8L845.5,481.7L848.0,481.4L850.5,480.9L853.1,480.5L855.6,480.5L858.1,480.7L860.6,481.0L863.1,481.7L865.6,482.4L868.0,483.0L870.5,483.4L873.0,483.8L875.5,484.3L877.9,484.8L880.4,485.3L882.8,486.0L885.2,486.8L887.6,487.7L889.8,488.8L892.0,490.2L894.1,491.6L896.2,492.8L898.5,494.0L900.5,495.5L902.2,497.3L903.9,499.1L905.8,500.8L907.2,503.0L908.1,505.3L909.1,507.6L910.0,510.0L910.4,512.4L911.0,514.8L911.8,517.2L912.4,519.7L912.7,522.2L912.7,524.7L912.3,527.2L911.8,529.6L911.4,532.1L910.8,534.5L909.9,536.8L909.0,539.2L908.2,541.5L907.1,543.8L905.8,546.0L904.6,548.2L903.1,550.3L901.4,552.1L899.5,553.8L897.9,555.8L896.4,557.7L894.5,559.4L892.7,561.2L891.2,563.2L889.7,565.2L888.0,567.1L886.2,568.9L884.5,570.8L882.5,572.3L880.2,573.6L878.0,574.7L875.9,576.1L874.2,578.0L872.3,579.7L870.0,580.9L867.7,582.0L865.5,583.2L863.4,584.6L861.2,585.8L858.9,586.8L856.5,587.5L854.2,588.5L851.9,589.6L849.5,590.5L847.2,591.5L844.8,592.3L842.4,593.0L840.0,593.8L837.6,594.4L835.0,594.7L832.5,595.0L830.1,595.5L827.6,596.0L825.1,596.3L822.6,596.1L820.0,595.8L817.5,596.0L815.0,596.2L812.5,596.2L810.0,596.1L807.5,596.0L805.0,596.2L802.5,596.5L800.0,596.4L797.5,596.1L795.0,595.9L792.5,595.3L790.1,594.3L787.7,593.7L785.2,593.5L782.7,593.3L780.2,592.8L777.8,592.2L775.3,591.7L772.8,591.1L770.4,590.3L768.1,589.4L765.7,588.7L763.4,587.6L761.2,586.2L759.1,584.9L756.8,583.9L754.5,582.8L752.2,581.8L749.8,581.0L747.6,579.9L745.5,578.4L743.4,577.0L741.0,576.1L738.7,575.0L736.8,573.4L734.9,571.7L732.9,570.2L731.0,568.6L728.9,567.1L726.7,565.9L724.4,564.7L722.4,563.2L720.6,561.4L718.9,559.5L717.3,557.6L716.0,555.4L715.1,553.0L714.5,550.5L714.0,548.1L713.9,545.6L714.5,543.2L715.3,540.8L716.3,538.4L717.7,536.3L719.3,534.3L721.1,532.5L723.1,531.0L724.9,529.2L726.4,527.2L728.1,525.3L729.9,523.5L731.7,521.8L733.8,520.3L735.8,518.8L737.8,517.3L739.7,515.6L741.6,514.0L743.6,512.5L745.6,510.9L747.6,509.3L749.7,507.9L751.9,506.8L754.3,505.8L756.6,504.7L758.7,503.4L760.8,502.0L763.1,501.0L765.5,500.2L767.8,499.1L770.0,497.9L772.2,496.7L774.4,495.4L776.6,494.2L779.0,493.3L781.4,492.6L783.8,492.0L786.3,491.2L788.7,490.6Z"/>
<path d="M666.0,543.9L670.7,538.3L680.0,537.7L686.9,544.6L676.9,551.7L669.1,548.6Z"/>
</g>
</g>
<ellipse cx="842.25" cy="417.05" rx="770.0" ry="385.0" fill="none" stroke="#000" stroke-width="2.2"/>
<g class="dl">
<text x="813.5" y="580.4">n0</text>
<text x="925.4" y="582.9">n1</text>
<text x="1138.0" y="578.2">n2</text>
<text x="777.7" y="328.0">n3</text>
<text x="811.3" y="113.4">n4</text>
<text x="1049.4" y="319.8">n5</text>
<text x="634.6" y="512.6">n6</text>
<text x="530.7" y="449.1">n7</text>
<text x="421.9" y="282.6">n8</text>
<text x="684.2" y="737.9">n9</text>
<text x="1269.5" y="736.5">na</text>
<text x="309.0" y="531.3">nb</text>
<text x="1040.9" y="303.9">b0</text>
<text x="311.0" y="549.2">b1</text>
</g>
<g>
<text x="200.6" y="408.0" text-anchor="middle">330<tspan class="dg" dx="6.2" dy="-5.6">°</tspan></text>
<text x="328.9" y="408.0" text-anchor="middle">300<tspan class="dg" dx="6.2" dy="-5.6">°</tspan></text>
<text x="457.2" y="408.0" text-anchor="middle">270<tspan class="dg" dx="6.2" dy="-5.6">°</tspan></text>
<text x="585.6" y="408.0" text-anchor="middle">240<tspan class="dg" dx="6.2" dy="-5.6">°</tspan></text>
<text x="713.9" y="408.0" text-anchor="middle">210<tspan class="dg" dx="6.2" dy="-5.6">°</tspan></text>
<text x="842.2" y="408.0" text-anchor="middle">180<tspan class="dg" dx="6.2" dy="-5.6">°</tspan></text>
<text x="970.6" y="408.0" text-anchor="middle">150<tspan class="dg" dx="6.2" dy="-5.6">°</tspan></text>
<text x="1098.9" y="408.0" text-anchor="middle">120<tspan class="dg" dx="6.2" dy="-5.6">°</tspan></text>
<text x="1227.2" y="408.0" text-anchor="middle">90<tspan class="dg" dx="6.2" dy="-5.6">°</tspan></text>
<text x="1355.6" y="408.0" text-anchor="middle">60<tspan class="dg" dx="6.2" dy="-5.6">°</tspan></text>
<text x="1483.9" y="408.0" text-anchor="middle">30<tspan class="dg" dx="6.2" dy="-5.6">°</tspan></text>
<text x="507.8" y="41.6" text-anchor="end">75<tspan class="dg" dx="6.2" dy="-5.6">°</tspan></text>
<text x="335.4" y="102.5" text-anchor="end">60<tspan class="dg" dx="6.2" dy="-5.6">°</tspan></text>
<text x="213.1" y="174.6" text-anchor="end">45<tspan class="dg" dx="6.2" dy="-5.6">°</tspan></text>
<text x="129.3" y="255.3" text-anchor="end">30<tspan class="dg" dx="6.2" dy="-5.6">°</tspan></text>
<text x="80.0" y="338.7" text-anchor="end">15<tspan class="dg" dx="6.2" dy="-5.6">°</tspan></text>
<text x="63.6" y="426.4" text-anchor="end">0<tspan class="dg" dx="6.2" dy="-5.6">°</tspan></text>
<text x="79.5" y="512.0" text-anchor="end">-15<tspan class="dg" dx="6.2" dy="-5.6">°</tspan></text>
<text x="128.8" y="597.4" text-anchor="end">-30<tspan class="dg" dx="6.2" dy="-5.6">°</tspan></text>
<text x="212.6" y="676.1" text-anchor="end">-45<tspan class="dg" dx="6.2" dy="-5.6">°</tspan></text>
<text x="334.9" y="749.4" text-anchor="end">-60<tspan class="dg" dx="6.2" dy="-5.6">°</tspan></text>
<text x="507.3" y="809.1" text-anchor="end">-75<tspan class="dg" dx="6.2" dy="-5.6">°</tspan></text>
</g>
</svg></body></html>
